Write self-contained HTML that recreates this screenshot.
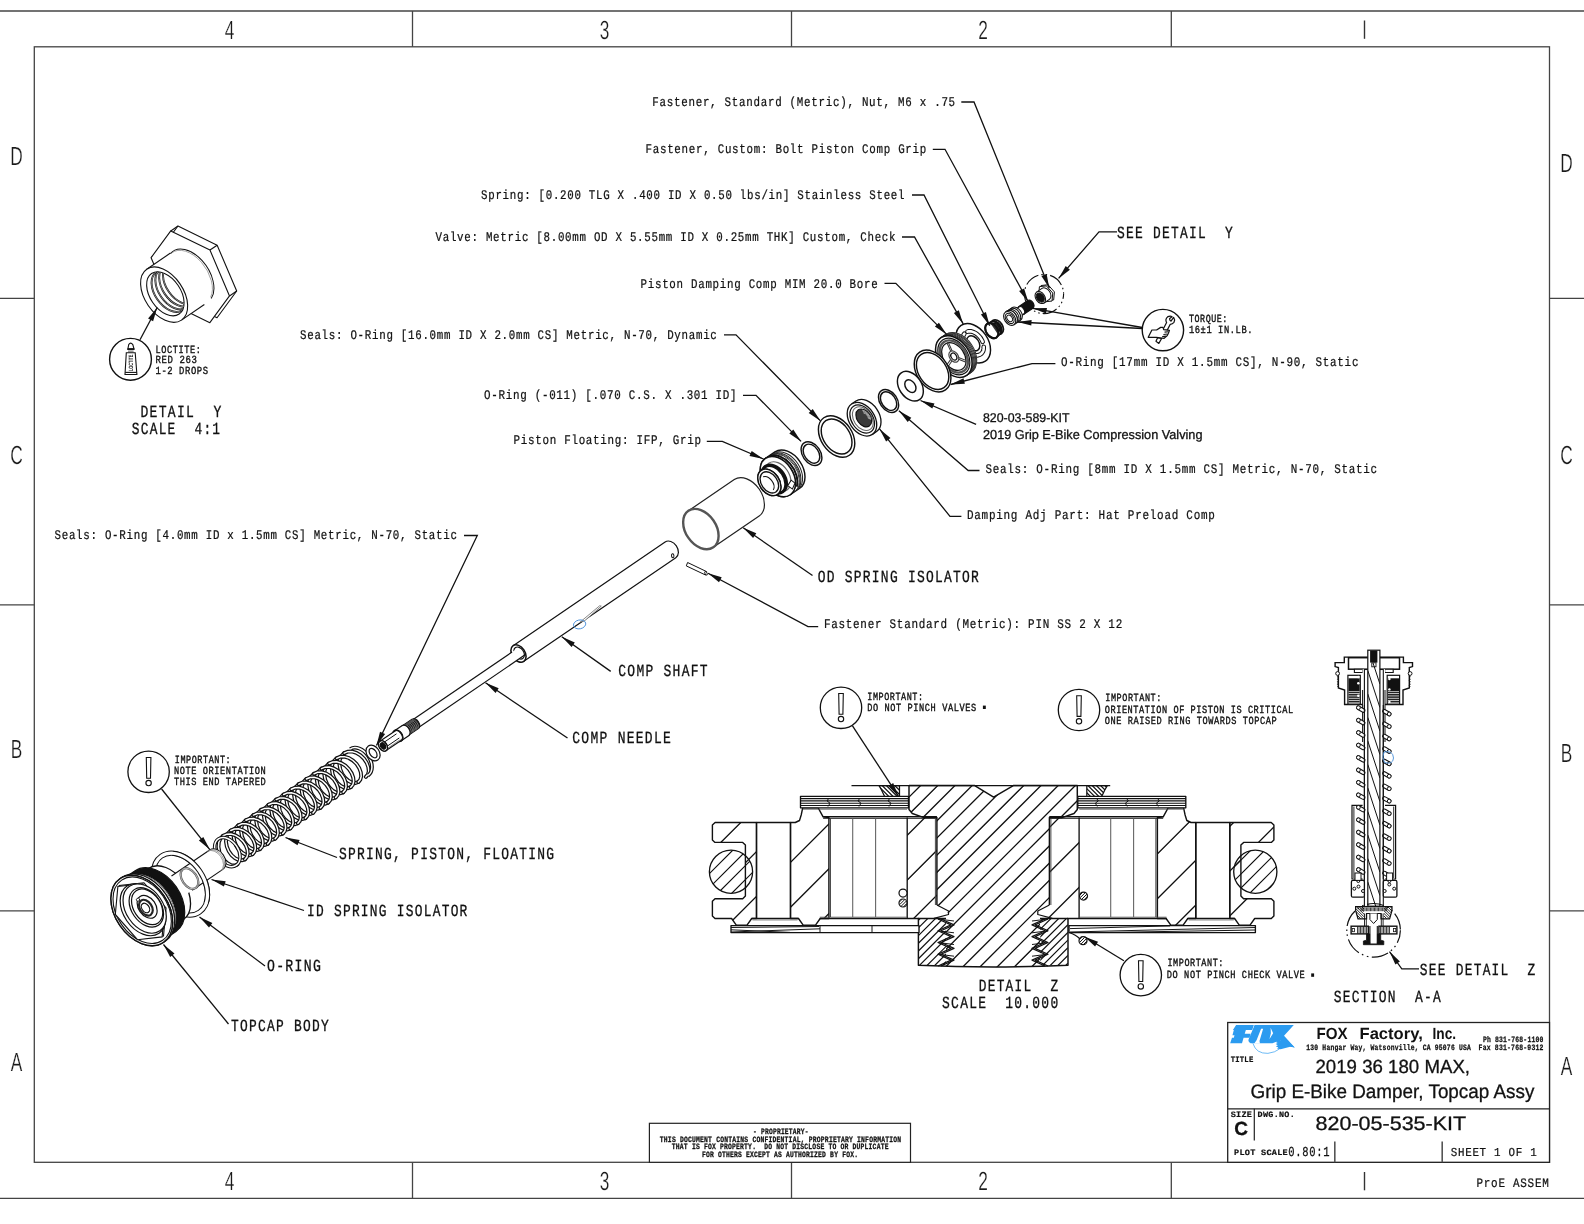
<!DOCTYPE html>
<html><head><meta charset="utf-8"><title>820-05-535-KIT</title>
<style>
html,body{margin:0;padding:0;background:#fff;}
body{width:1584px;height:1224px;overflow:hidden;font-family:"Liberation Sans",sans-serif;}
svg{display:block}
svg text{text-rendering:geometricPrecision}
</style></head><body>
<svg width="1584" height="1224" viewBox="0 0 1584 1224">
<rect width="1584" height="1224" fill="#fff"/>
<defs><filter id="noop" x="0" y="0" width="1584" height="1224" filterUnits="userSpaceOnUse" color-interpolation-filters="sRGB"><feOffset dx="0" dy="0"/></filter></defs>
<g filter="url(#noop)">
<g id="frame">
<path d="M0.0,11.0 L1584.0,11.0" fill="none" stroke="#444" stroke-width="1.3" />
<path d="M0.0,1198.3 L1584.0,1198.3" fill="none" stroke="#444" stroke-width="1.3" />
<rect x="34.3" y="46.8" width="1515.2" height="1115.5" fill="none" stroke="#444" stroke-width="1.3"/>
<path d="M412.5,11.0 L412.5,46.8" fill="none" stroke="#444" stroke-width="1.3" />
<path d="M412.5,1162.3 L412.5,1198.3" fill="none" stroke="#444" stroke-width="1.3" />
<path d="M791.5,11.0 L791.5,46.8" fill="none" stroke="#444" stroke-width="1.3" />
<path d="M791.5,1162.3 L791.5,1198.3" fill="none" stroke="#444" stroke-width="1.3" />
<path d="M1171.3,11.0 L1171.3,46.8" fill="none" stroke="#444" stroke-width="1.3" />
<path d="M1171.3,1162.3 L1171.3,1198.3" fill="none" stroke="#444" stroke-width="1.3" />
<path d="M0.0,298.3 L34.3,298.3" fill="none" stroke="#444" stroke-width="1.3" />
<path d="M1549.5,298.3 L1584.0,298.3" fill="none" stroke="#444" stroke-width="1.3" />
<path d="M0.0,604.8 L34.3,604.8" fill="none" stroke="#444" stroke-width="1.3" />
<path d="M1549.5,604.8 L1584.0,604.8" fill="none" stroke="#444" stroke-width="1.3" />
<path d="M0.0,910.8 L34.3,910.8" fill="none" stroke="#444" stroke-width="1.3" />
<path d="M1549.5,910.8 L1584.0,910.8" fill="none" stroke="#444" stroke-width="1.3" />
<text transform="translate(229.5,38.8) scale(0.66,1)" font-family="Liberation Sans" font-size="26.2" text-anchor="middle" fill="#1a1a1a" stroke="#fff" stroke-width="0.25">4</text>
<text transform="translate(229.5,1190.3) scale(0.66,1)" font-family="Liberation Sans" font-size="26.2" text-anchor="middle" fill="#1a1a1a" stroke="#fff" stroke-width="0.25">4</text>
<text transform="translate(604.5,38.8) scale(0.66,1)" font-family="Liberation Sans" font-size="26.2" text-anchor="middle" fill="#1a1a1a" stroke="#fff" stroke-width="0.25">3</text>
<text transform="translate(604.5,1190.3) scale(0.66,1)" font-family="Liberation Sans" font-size="26.2" text-anchor="middle" fill="#1a1a1a" stroke="#fff" stroke-width="0.25">3</text>
<text transform="translate(983,38.8) scale(0.66,1)" font-family="Liberation Sans" font-size="26.2" text-anchor="middle" fill="#1a1a1a" stroke="#fff" stroke-width="0.25">2</text>
<text transform="translate(983,1190.3) scale(0.66,1)" font-family="Liberation Sans" font-size="26.2" text-anchor="middle" fill="#1a1a1a" stroke="#fff" stroke-width="0.25">2</text>
<path d="M1364.5,20.5 L1364.5,38.8" fill="none" stroke="#333" stroke-width="1.4" />
<path d="M1364.5,1172.0 L1364.5,1190.3" fill="none" stroke="#333" stroke-width="1.4" />
<text transform="translate(16.5,164.5) scale(0.66,1)" font-family="Liberation Sans" font-size="26.2" text-anchor="middle" fill="#1a1a1a" stroke="#fff" stroke-width="0.25">D</text>
<text transform="translate(1566.5,171.5) scale(0.66,1)" font-family="Liberation Sans" font-size="26.2" text-anchor="middle" fill="#1a1a1a" stroke="#fff" stroke-width="0.25">D</text>
<text transform="translate(16.5,463.5) scale(0.66,1)" font-family="Liberation Sans" font-size="26.2" text-anchor="middle" fill="#1a1a1a" stroke="#fff" stroke-width="0.25">C</text>
<text transform="translate(1566.5,464) scale(0.66,1)" font-family="Liberation Sans" font-size="26.2" text-anchor="middle" fill="#1a1a1a" stroke="#fff" stroke-width="0.25">C</text>
<text transform="translate(16.5,758) scale(0.66,1)" font-family="Liberation Sans" font-size="26.2" text-anchor="middle" fill="#1a1a1a" stroke="#fff" stroke-width="0.25">B</text>
<text transform="translate(1566.5,762) scale(0.66,1)" font-family="Liberation Sans" font-size="26.2" text-anchor="middle" fill="#1a1a1a" stroke="#fff" stroke-width="0.25">B</text>
<text transform="translate(16.5,1071) scale(0.66,1)" font-family="Liberation Sans" font-size="26.2" text-anchor="middle" fill="#1a1a1a" stroke="#fff" stroke-width="0.25">A</text>
<text transform="translate(1566.5,1074.5) scale(0.66,1)" font-family="Liberation Sans" font-size="26.2" text-anchor="middle" fill="#1a1a1a" stroke="#fff" stroke-width="0.25">A</text>
</g>
<g id="labels">
<text transform="translate(652.30,106.30) scale(1,1.217)" font-family="Liberation Mono" font-size="10.85" letter-spacing="0.72" fill="#111" stroke="#111" stroke-width="0.2" xml:space="preserve">Fastener, Standard (Metric), Nut, M6 x .75</text>
<text transform="translate(645.50,153.00) scale(1,1.218)" font-family="Liberation Mono" font-size="10.84" letter-spacing="0.72" fill="#111" stroke="#111" stroke-width="0.2" xml:space="preserve">Fastener, Custom: Bolt Piston Comp Grip</text>
<text transform="translate(481.00,198.80) scale(1,1.224)" font-family="Liberation Mono" font-size="10.79" letter-spacing="0.72" fill="#111" stroke="#111" stroke-width="0.2" xml:space="preserve">Spring: [0.200 TLG X .400 ID X 0.50 lbs/in] Stainless Steel</text>
<text transform="translate(435.50,241.30) scale(1,1.222)" font-family="Liberation Mono" font-size="10.81" letter-spacing="0.72" fill="#111" stroke="#111" stroke-width="0.2" xml:space="preserve">Valve: Metric [8.00mm OD X 5.55mm ID X 0.25mm THK] Custom, Check</text>
<text transform="translate(640.50,287.50) scale(1,1.220)" font-family="Liberation Mono" font-size="10.82" letter-spacing="0.72" fill="#111" stroke="#111" stroke-width="0.2" xml:space="preserve">Piston Damping Comp MIM 20.0 Bore</text>
<text transform="translate(300.00,338.50) scale(1,1.221)" font-family="Liberation Mono" font-size="10.81" letter-spacing="0.72" fill="#111" stroke="#111" stroke-width="0.2" xml:space="preserve">Seals: O-Ring [16.0mm ID X 2.0mm CS] Metric, N-70, Dynamic</text>
<text transform="translate(484.00,399.00) scale(1,1.215)" font-family="Liberation Mono" font-size="10.87" letter-spacing="0.72" fill="#111" stroke="#111" stroke-width="0.2" xml:space="preserve">O-Ring (-011) [.070 C.S. X .301 ID]</text>
<text transform="translate(513.50,444.30) scale(1,1.215)" font-family="Liberation Mono" font-size="10.87" letter-spacing="0.72" fill="#111" stroke="#111" stroke-width="0.2" xml:space="preserve">Piston Floating: IFP, Grip</text>
<text transform="translate(54.50,539.00) scale(1,1.223)" font-family="Liberation Mono" font-size="10.80" letter-spacing="0.72" fill="#111" stroke="#111" stroke-width="0.2" xml:space="preserve">Seals: O-Ring [4.0mm ID x 1.5mm CS] Metric, N-70, Static</text>
<text transform="translate(1060.90,366.40) scale(1,1.210)" font-family="Liberation Mono" font-size="10.91" letter-spacing="0.73" fill="#111" stroke="#111" stroke-width="0.2" xml:space="preserve">O-Ring [17mm ID X 1.5mm CS], N-90, Static</text>
<text transform="translate(985.50,473.20) scale(1,1.211)" font-family="Liberation Mono" font-size="10.90" letter-spacing="0.73" fill="#111" stroke="#111" stroke-width="0.2" xml:space="preserve">Seals: O-Ring [8mm ID X 1.5mm CS] Metric, N-70, Static</text>
<text transform="translate(967.00,518.60) scale(1,1.202)" font-family="Liberation Mono" font-size="10.98" letter-spacing="0.73" fill="#111" stroke="#111" stroke-width="0.2" xml:space="preserve">Damping Adj Part: Hat Preload Comp</text>
<text transform="translate(823.90,628.40) scale(1,1.206)" font-family="Liberation Mono" font-size="10.94" letter-spacing="0.73" fill="#111" stroke="#111" stroke-width="0.2" xml:space="preserve">Fastener Standard (Metric): PIN SS 2 X 12</text>
<text transform="translate(1117.00,237.50) scale(1,1.317)" font-family="Liberation Mono" font-size="12.90" letter-spacing="1.26" fill="#111" stroke="#111" stroke-width="0.25" xml:space="preserve">SEE DETAIL  Y</text>
<text transform="translate(817.70,581.60) scale(1,1.313)" font-family="Liberation Mono" font-size="12.94" letter-spacing="1.26" fill="#111" stroke="#111" stroke-width="0.25" xml:space="preserve">OD SPRING ISOLATOR</text>
<text transform="translate(618.30,676.10) scale(1,1.310)" font-family="Liberation Mono" font-size="12.98" letter-spacing="1.27" fill="#111" stroke="#111" stroke-width="0.25" xml:space="preserve">COMP SHAFT</text>
<text transform="translate(572.30,743.00) scale(1,1.308)" font-family="Liberation Mono" font-size="13.00" letter-spacing="1.27" fill="#111" stroke="#111" stroke-width="0.25" xml:space="preserve">COMP NEEDLE</text>
<text transform="translate(339.00,858.50) scale(1,1.314)" font-family="Liberation Mono" font-size="12.93" letter-spacing="1.26" fill="#111" stroke="#111" stroke-width="0.25" xml:space="preserve">SPRING, PISTON, FLOATING</text>
<text transform="translate(307.00,916.00) scale(1,1.321)" font-family="Liberation Mono" font-size="12.86" letter-spacing="1.26" fill="#111" stroke="#111" stroke-width="0.25" xml:space="preserve">ID SPRING ISOLATOR</text>
<text transform="translate(267.00,971.20) scale(1,1.292)" font-family="Liberation Mono" font-size="13.16" letter-spacing="1.28" fill="#111" stroke="#111" stroke-width="0.25" xml:space="preserve">O-RING</text>
<text transform="translate(231.00,1030.50) scale(1,1.317)" font-family="Liberation Mono" font-size="12.90" letter-spacing="1.26" fill="#111" stroke="#111" stroke-width="0.25" xml:space="preserve">TOPCAP BODY</text>
<text transform="translate(140.50,417.30) scale(1,1.301)" font-family="Liberation Mono" font-size="13.07" letter-spacing="1.28" fill="#111" stroke="#111" stroke-width="0.25" xml:space="preserve">DETAIL  Y</text>
<text transform="translate(131.80,434.00) scale(1,1.325)" font-family="Liberation Mono" font-size="12.83" letter-spacing="1.25" fill="#111" stroke="#111" stroke-width="0.25" xml:space="preserve">SCALE  4:1</text>
<text transform="translate(978.70,991.40) scale(1,1.322)" font-family="Liberation Mono" font-size="12.85" letter-spacing="1.26" fill="#111" stroke="#111" stroke-width="0.25" xml:space="preserve">DETAIL  Z</text>
<text transform="translate(942.10,1008.20) scale(1,1.314)" font-family="Liberation Mono" font-size="12.94" letter-spacing="1.26" fill="#111" stroke="#111" stroke-width="0.25" xml:space="preserve">SCALE  10.000</text>
<text transform="translate(1419.80,974.50) scale(1,1.322)" font-family="Liberation Mono" font-size="12.86" letter-spacing="1.26" fill="#111" stroke="#111" stroke-width="0.25" xml:space="preserve">SEE DETAIL  Z</text>
<text transform="translate(1333.70,1001.60) scale(1,1.313)" font-family="Liberation Mono" font-size="12.94" letter-spacing="1.26" fill="#111" stroke="#111" stroke-width="0.25" xml:space="preserve">SECTION  A-A</text>
<text transform="translate(155.50,352.80) scale(1,1.264)" font-family="Liberation Mono" font-size="8.65" letter-spacing="0.58" fill="#111" stroke="#111" stroke-width="0.3" xml:space="preserve">LOCTITE:</text>
<text transform="translate(155.50,363.00) scale(1,1.215)" font-family="Liberation Mono" font-size="9.00" letter-spacing="0.60" fill="#111" stroke="#111" stroke-width="0.3" xml:space="preserve">RED 263</text>
<text transform="translate(155.50,374.00) scale(1,1.233)" font-family="Liberation Mono" font-size="8.86" letter-spacing="0.59" fill="#111" stroke="#111" stroke-width="0.3" xml:space="preserve">1-2 DROPS</text>
<text transform="translate(1188.90,322.00) scale(1,1.305)" font-family="Liberation Mono" font-size="8.37" letter-spacing="0.56" fill="#111" stroke="#111" stroke-width="0.3" xml:space="preserve">TORQUE:</text>
<text transform="translate(1188.90,332.70) scale(1,1.249)" font-family="Liberation Mono" font-size="8.75" letter-spacing="0.58" fill="#111" stroke="#111" stroke-width="0.3" xml:space="preserve">16±1 IN.LB.</text>
<text transform="translate(174.80,763.40) scale(1,1.290)" font-family="Liberation Mono" font-size="8.47" letter-spacing="0.56" fill="#111" stroke="#111" stroke-width="0.3" xml:space="preserve">IMPORTANT:</text>
<text transform="translate(173.90,774.20) scale(1,1.260)" font-family="Liberation Mono" font-size="8.67" letter-spacing="0.58" fill="#111" stroke="#111" stroke-width="0.3" xml:space="preserve">NOTE ORIENTATION</text>
<text transform="translate(173.90,784.80) scale(1,1.260)" font-family="Liberation Mono" font-size="8.67" letter-spacing="0.58" fill="#111" stroke="#111" stroke-width="0.3" xml:space="preserve">THIS END TAPERED</text>
<text transform="translate(867.30,699.50) scale(1,1.292)" font-family="Liberation Mono" font-size="8.46" letter-spacing="0.56" fill="#111" stroke="#111" stroke-width="0.3" xml:space="preserve">IMPORTANT:</text>
<text transform="translate(867.30,711.00) scale(1,1.266)" font-family="Liberation Mono" font-size="8.63" letter-spacing="0.58" fill="#111" stroke="#111" stroke-width="0.3" xml:space="preserve">DO NOT PINCH VALVES  </text>
<text transform="translate(1105.30,701.20) scale(1,1.287)" font-family="Liberation Mono" font-size="8.49" letter-spacing="0.57" fill="#111" stroke="#111" stroke-width="0.3" xml:space="preserve">IMPORTANT:</text>
<text transform="translate(1104.70,712.70) scale(1,1.270)" font-family="Liberation Mono" font-size="8.60" letter-spacing="0.57" fill="#111" stroke="#111" stroke-width="0.3" xml:space="preserve">ORIENTATION OF PISTON IS CRITICAL</text>
<text transform="translate(1104.70,723.50) scale(1,1.264)" font-family="Liberation Mono" font-size="8.65" letter-spacing="0.58" fill="#111" stroke="#111" stroke-width="0.3" xml:space="preserve">ONE RAISED RING TOWARDS TOPCAP</text>
<text transform="translate(1167.40,966.10) scale(1,1.287)" font-family="Liberation Mono" font-size="8.49" letter-spacing="0.57" fill="#111" stroke="#111" stroke-width="0.3" xml:space="preserve">IMPORTANT:</text>
<text transform="translate(1166.80,977.80) scale(1,1.262)" font-family="Liberation Mono" font-size="8.66" letter-spacing="0.58" fill="#111" stroke="#111" stroke-width="0.3" xml:space="preserve">DO NOT PINCH CHECK VALVE  </text>
<rect x="982.9" y="705.6" width="2.9" height="3.4" fill="#111"/><rect x="1311.2" y="973.4" width="2.9" height="3.4" fill="#111"/>
<text x="983.00" y="422.00" font-family="Liberation Sans" font-size="12.6" textLength="86.5" lengthAdjust="spacingAndGlyphs" fill="#111" stroke="#111" stroke-width="0.3" text-anchor="start" xml:space="preserve">820-03-589-KIT</text>
<text x="983.00" y="439.00" font-family="Liberation Sans" font-size="13" textLength="219.5" lengthAdjust="spacingAndGlyphs" fill="#111" stroke="#111" stroke-width="0.3" text-anchor="start" xml:space="preserve">2019 Grip E-Bike Compression Valving</text>
</g>
<g id="titleblock">
<rect x="1227.7" y="1022.5" width="321.8" height="139.8" fill="#fff" stroke="#222" stroke-width="1.3"/>
<path d="M1227.7,1108.8 L1549.5,1108.8" fill="none" stroke="#222" stroke-width="1.3" />
<path d="M1254.3,1108.8 L1254.3,1140.6" fill="none" stroke="#222" stroke-width="1.2" />
<path d="M1334.8,1141.6 L1334.8,1162.3" fill="none" stroke="#555" stroke-width="1.6" />
<path d="M1442.2,1141.6 L1442.2,1162.3" fill="none" stroke="#555" stroke-width="1.6" />
<g transform="translate(1227,1022) scale(0.04545)">
<path d="M200,65 L590,65 L555,175 L415,175 L390,260 L520,260 L495,345 L365,345 L330,470 L70,470 L110,345 L150,345 L165,290 L120,290 L150,175 L130,175 Z" fill="#2b9bf0"/>
<path d="M610,65 L1470,65 L1255,300 L1490,560 L1390,540 L1180,410 L1100,430 L1000,470 L520,470 Q450,440 480,370 L590,110 Q600,70 610,65 Z" fill="#2b9bf0"/>
<path d="M750,150 L795,150 L715,420 L725,472 L600,472 L650,400 Z" fill="#fff"/>
<path d="M960,125 L1015,250 L935,375 L965,250 Z" fill="#fff"/>
<path d="M1100,420 L1180,405 L1250,330 L1490,560 L1390,545 L1180,600 L1100,585 L1130,560 L1075,535 L1120,510 L1070,485 L1115,460 L1075,440 Z" fill="#2b9bf0"/>
<path d="M570,470 Q640,700 900,690 Q1060,670 1160,590" fill="none" stroke="#2b9bf0" stroke-width="15"/>
</g>
<text x="1316.6" y="1038.6" font-family="Liberation Sans" font-weight="bold" font-size="16.2" textLength="31.1" lengthAdjust="spacingAndGlyphs" fill="#111">FOX</text>
<text x="1359.5" y="1038.6" font-family="Liberation Sans" font-weight="bold" font-size="16.2" textLength="63.3" lengthAdjust="spacingAndGlyphs" fill="#111">Factory,</text>
<text x="1432.5" y="1038.6" font-family="Liberation Sans" font-weight="bold" font-size="16.2" textLength="23.6" lengthAdjust="spacingAndGlyphs" fill="#111">Inc.</text>
<text transform="translate(1306.30,1049.80) scale(1,1.287)" font-family="Liberation Mono" font-size="6.37" letter-spacing="0.20" font-weight="bold" fill="#111" stroke="#111" stroke-width="0.2" xml:space="preserve">130 Hangar Way, Watsonville, CA 95076 USA</text>
<text transform="translate(1482.90,1041.80) scale(1,1.276)" font-family="Liberation Mono" font-size="6.42" letter-spacing="0.20" font-weight="bold" fill="#111" stroke="#111" stroke-width="0.2" xml:space="preserve">Ph 831-768-1100</text>
<text transform="translate(1478.60,1049.80) scale(1,1.271)" font-family="Liberation Mono" font-size="6.45" letter-spacing="0.20" font-weight="bold" fill="#111" stroke="#111" stroke-width="0.2" xml:space="preserve">Fax 831-768-9312</text>
<text transform="translate(1230.70,1061.60) scale(1,1.136)" font-family="Liberation Mono" font-size="7.21" letter-spacing="0.23" font-weight="bold" fill="#111" stroke="#111" stroke-width="0.2" xml:space="preserve">TITLE</text>
<text transform="translate(1230.70,1117.00) scale(1,0.963)" font-family="Liberation Mono" font-size="8.51" letter-spacing="0.27" font-weight="bold" fill="#111" stroke="#111" stroke-width="0.2" xml:space="preserve">SIZE</text>
<text transform="translate(1257.60,1117.00) scale(1,0.966)" font-family="Liberation Mono" font-size="8.48" letter-spacing="0.27" font-weight="bold" fill="#111" stroke="#111" stroke-width="0.2" xml:space="preserve">DWG.NO.</text>
<text transform="translate(1234.00,1154.50) scale(1,0.958)" font-family="Liberation Mono" font-size="8.55" letter-spacing="0.27" font-weight="bold" fill="#111" stroke="#111" stroke-width="0.2" xml:space="preserve">PLOT SCALE</text>
<text transform="translate(1288.30,1156.00) scale(1,1.299)" font-family="Liberation Mono" font-size="10.52" letter-spacing="0.70" fill="#111" stroke="#111" stroke-width="0.2" xml:space="preserve">0.80:1</text>
<text transform="translate(1450.70,1155.60) scale(1,1.119)" font-family="Liberation Mono" font-size="10.85" letter-spacing="0.72" fill="#111" stroke="#111" stroke-width="0.2" xml:space="preserve">SHEET 1 OF 1</text>
<text transform="translate(1476.50,1186.50) scale(1,1.177)" font-family="Liberation Mono" font-size="10.96" letter-spacing="0.73" fill="#111" stroke="#111" stroke-width="0.2" xml:space="preserve">ProE ASSEM</text>
<text x="1315.50" y="1072.50" font-family="Liberation Sans" font-size="19" textLength="154.5" lengthAdjust="spacingAndGlyphs" fill="#111" stroke="#111" stroke-width="0.3" text-anchor="start" xml:space="preserve">2019 36 180 MAX,</text>
<text x="1250.50" y="1097.60" font-family="Liberation Sans" font-size="19.5" textLength="283.9" lengthAdjust="spacingAndGlyphs" fill="#111" stroke="#111" stroke-width="0.3" text-anchor="start" xml:space="preserve">Grip E-Bike Damper, Topcap Assy</text>
<text x="1315.50" y="1129.80" font-family="Liberation Sans" font-size="19.5" textLength="150.7" lengthAdjust="spacingAndGlyphs" fill="#111" stroke="#111" stroke-width="0.3" text-anchor="start" xml:space="preserve">820-05-535-KIT</text>
<text x="1234.20" y="1135.20" font-family="Liberation Sans" font-size="19" font-weight="bold" fill="#111" stroke="#111" stroke-width="0.3" text-anchor="start" xml:space="preserve">C</text>
<rect x="649.4" y="1123.3" width="261.1" height="39" fill="#fff" stroke="#222" stroke-width="1.2"/>
<text transform="translate(753.10,1133.90) scale(1,1.303)" font-family="Liberation Mono" font-size="6.29" letter-spacing="0.20" font-weight="bold" fill="#111" stroke="#111" stroke-width="0.2" xml:space="preserve">- PROPRIETARY-</text>
<text transform="translate(659.80,1141.80) scale(1,1.283)" font-family="Liberation Mono" font-size="6.39" letter-spacing="0.20" font-weight="bold" fill="#111" stroke="#111" stroke-width="0.2" xml:space="preserve">THIS DOCUMENT CONTAINS CONFIDENTIAL, PROPRIETARY INFORMATION</text>
<text transform="translate(671.80,1149.20) scale(1,1.286)" font-family="Liberation Mono" font-size="6.37" letter-spacing="0.20" font-weight="bold" fill="#111" stroke="#111" stroke-width="0.2" xml:space="preserve">THAT IS FOX PROPERTY.  DO NOT DISCLOSE TO OR DUPLICATE</text>
<text transform="translate(701.90,1156.80) scale(1,1.291)" font-family="Liberation Mono" font-size="6.35" letter-spacing="0.20" font-weight="bold" fill="#111" stroke="#111" stroke-width="0.2" xml:space="preserve">FOR OTHERS EXCEPT AS AUTHORIZED BY FOX.</text>
</g>
<g id="exploded" transform="translate(836.6,436.5) rotate(-34.3)" fill="#fff" stroke="#111" stroke-width="1">
<path d="M261.4,3.3 L256.3,9.5 L250.1,6.2 L248.9,-3.3 L254.0,-9.5 L260.2,-6.2Z" fill="#fff" stroke="#111" stroke-width="0.9"/>
<path d="M259.4,3.3 L254.3,9.5 L248.1,6.2 L246.9,-3.3 L252.0,-9.5 L258.2,-6.2Z" fill="#fff" stroke="#111" stroke-width="0.9"/>
<path d="M246.6,-6.6 L253.1,-6.6 A4.55,6.60 0 0 1 253.1,6.6 L246.6,6.6" fill="#fff" stroke="#111" stroke-width="1.08"/>
<ellipse cx="246.6" cy="0.0" rx="4.55" ry="6.60" fill="#fff" stroke="#111" stroke-width="1.08"/>
<ellipse cx="246.6" cy="0.0" rx="3.45" ry="5.00" fill="#111" stroke="#111" stroke-width="1.08"/>
<path d="M223.5,-4.6 L234.5,-4.6 A3.17,4.60 0 0 1 234.5,4.6 L223.5,4.6" fill="#111" stroke="#111" stroke-width="1.2"/>
<ellipse cx="223.5" cy="0.0" rx="3.17" ry="4.60" fill="#111" stroke="#111" stroke-width="1.2"/>
<path d="M218.5,-4.2 L223.5,-4.2 A2.90,4.20 0 0 1 223.5,4.2 L218.5,4.2" fill="#fff" stroke="#111" stroke-width="1.08"/>
<ellipse cx="218.5" cy="0.0" rx="2.90" ry="4.20" fill="#fff" stroke="#111" stroke-width="1.08"/>
<ellipse cx="217.5" cy="0.0" rx="5.24" ry="7.60" fill="#fff" stroke="#111" stroke-width="1.08"/>
<ellipse cx="215.5" cy="0.0" rx="5.24" ry="7.60" fill="#fff" stroke="#111" stroke-width="1.08"/>
<ellipse cx="213.5" cy="0.0" rx="5.24" ry="7.60" fill="#fff" stroke="#111" stroke-width="1.08"/>
<ellipse cx="211.5" cy="0.0" rx="5.24" ry="7.60" fill="#fff" stroke="#111" stroke-width="1.08"/>
<path d="M209.5,-7.6 L211.5,-7.6 A5.24,7.60 0 0 1 211.5,7.6 L209.5,7.6" fill="#fff" stroke="#111" stroke-width="1.08"/>
<ellipse cx="209.5" cy="0.0" rx="5.24" ry="7.60" fill="#fff" stroke="#111" stroke-width="1.08"/>
<ellipse cx="209.5" cy="0.0" rx="3.86" ry="5.60" fill="#fff" stroke="#111" stroke-width="0.96"/>
<ellipse cx="209.5" cy="0.0" rx="2.48" ry="3.60" fill="#fff" stroke="#111" stroke-width="0.96"/>
<ellipse cx="194.4" cy="0.0" rx="5.38" ry="7.80" fill="none" stroke="#111" stroke-width="1.7999999999999998"/>
<ellipse cx="192.9" cy="0.0" rx="5.11" ry="7.40" fill="#222" stroke="#111" stroke-width="1.56"/>
<ellipse cx="191.4" cy="0.0" rx="5.38" ry="7.80" fill="#fff" stroke="#111" stroke-width="1.7999999999999998"/>
<ellipse cx="192.4" cy="0.0" rx="3.45" ry="5.00" fill="#333" stroke="#111" stroke-width="1.44"/>
<ellipse cx="187.9" cy="0.0" rx="5.73" ry="8.30" fill="#fff" stroke="#111" stroke-width="1.92"/>
<path d="M190.8,-7.1 A5.7,8.3 0 0 1 190.8,7.1" fill="#333" stroke="none"/>
<ellipse cx="187.9" cy="0.0" rx="5.73" ry="8.30" fill="none" stroke="#111" stroke-width="1.92"/>
<ellipse cx="165.4" cy="0.0" rx="14.90" ry="21.60" fill="#fff" stroke="#111" stroke-width="1.44"/>
<path d="M156.7,4.1 L156.4,2.6 L156.3,1.0 L156.3,-0.6 L156.4,-2.2 L156.6,-3.7 L157.0,-5.2 L157.5,-6.6 L158.1,-7.9 L158.8,-9.1 L159.6,-10.2 L160.5,-11.1 L161.4,-11.9 L162.4,-12.5 L163.5,-12.9" fill="none" stroke="#111" stroke-width="4.6" stroke-linecap="round"/>
<path d="M156.7,4.1 L156.4,2.6 L156.3,1.0 L156.3,-0.6 L156.4,-2.2 L156.6,-3.7 L157.0,-5.2 L157.5,-6.6 L158.1,-7.9 L158.8,-9.1 L159.6,-10.2 L160.5,-11.1 L161.4,-11.9 L162.4,-12.5 L163.5,-12.9" fill="none" stroke="#fff" stroke-width="2.6" stroke-linecap="round"/>
<path d="M167.2,-12.9 L168.3,-12.5 L169.3,-11.9 L170.3,-11.1 L171.1,-10.2 L171.9,-9.1 L172.6,-7.9 L173.2,-6.6 L173.7,-5.2 L174.1,-3.7 L174.3,-2.2 L174.5,-0.6 L174.4,1.0 L174.3,2.6 L174.0,4.1" fill="none" stroke="#111" stroke-width="4.6" stroke-linecap="round"/>
<path d="M167.2,-12.9 L168.3,-12.5 L169.3,-11.9 L170.3,-11.1 L171.1,-10.2 L171.9,-9.1 L172.6,-7.9 L173.2,-6.6 L173.7,-5.2 L174.1,-3.7 L174.3,-2.2 L174.5,-0.6 L174.4,1.0 L174.3,2.6 L174.0,4.1" fill="none" stroke="#fff" stroke-width="2.6" stroke-linecap="round"/>
<path d="M172.1,8.8 L171.3,9.9 L170.5,10.9 L169.6,11.7 L168.6,12.4 L167.5,12.8 L166.4,13.1 L165.4,13.2 L164.3,13.1 L163.2,12.8 L162.2,12.4 L161.2,11.7 L160.2,10.9 L159.4,9.9 L158.6,8.8" fill="none" stroke="#111" stroke-width="4.6" stroke-linecap="round"/>
<path d="M172.1,8.8 L171.3,9.9 L170.5,10.9 L169.6,11.7 L168.6,12.4 L167.5,12.8 L166.4,13.1 L165.4,13.2 L164.3,13.1 L163.2,12.8 L162.2,12.4 L161.2,11.7 L160.2,10.9 L159.4,9.9 L158.6,8.8" fill="none" stroke="#fff" stroke-width="2.6" stroke-linecap="round"/>
<ellipse cx="165.4" cy="0.0" rx="5.66" ry="8.20" fill="#fff" stroke="#111" stroke-width="1.44"/>
<ellipse cx="147.5" cy="0.0" rx="15.73" ry="22.80" fill="#fff" stroke="#333" stroke-width="1.08"/>
<ellipse cx="146.4" cy="0.0" rx="15.73" ry="22.80" fill="#fff" stroke="#333" stroke-width="1.08"/>
<ellipse cx="145.3" cy="0.0" rx="15.73" ry="22.80" fill="#fff" stroke="#333" stroke-width="1.08"/>
<ellipse cx="144.2" cy="0.0" rx="15.73" ry="22.80" fill="#fff" stroke="#333" stroke-width="1.08"/>
<ellipse cx="143.1" cy="0.0" rx="15.73" ry="22.80" fill="#fff" stroke="#333" stroke-width="1.08"/>
<ellipse cx="141.9" cy="0.0" rx="15.73" ry="22.80" fill="#fff" stroke="#111" stroke-width="1.56"/>
<ellipse cx="141.9" cy="0.0" rx="13.80" ry="20.00" fill="#fff" stroke="#111" stroke-width="1.2"/>
<ellipse cx="141.9" cy="0.0" rx="12.14" ry="17.60" fill="#fff" stroke="#555" stroke-width="2.4"/>
<ellipse cx="141.9" cy="0.0" rx="10.49" ry="15.20" fill="#fff" stroke="#111" stroke-width="1.2"/>
<path d="M142.3,-6.0 L143.9,-15.0" stroke="#333" stroke-width="1" fill="none"/>
<path d="M143.6,-5.5 L145.3,-14.5" stroke="#333" stroke-width="1" fill="none"/>
<path d="M145.2,3.5 L149.8,10.0" stroke="#333" stroke-width="1" fill="none"/>
<path d="M144.3,4.9 L148.8,11.6" stroke="#333" stroke-width="1" fill="none"/>
<path d="M138.1,2.4 L131.9,5.0" stroke="#333" stroke-width="1" fill="none"/>
<path d="M137.8,0.6 L131.5,2.9" stroke="#333" stroke-width="1" fill="none"/>
<ellipse cx="141.9" cy="0.0" rx="4.28" ry="6.20" fill="#fff" stroke="#444" stroke-width="1.2"/>
<ellipse cx="141.9" cy="0.0" rx="2.62" ry="3.80" fill="#fff" stroke="#111" stroke-width="1.2"/>
<ellipse cx="116.2" cy="0.0" rx="15.80" ry="22.90" fill="#fff" stroke="#111" stroke-width="1.44"/>
<ellipse cx="116.2" cy="0.0" rx="13.94" ry="20.20" fill="#fff" stroke="#111" stroke-width="1.44"/>
<ellipse cx="89.3" cy="0.0" rx="11.18" ry="16.20" fill="#fff" stroke="#111" stroke-width="1.44"/>
<ellipse cx="89.3" cy="0.0" rx="4.83" ry="7.00" fill="#fff" stroke="#111" stroke-width="1.44"/>
<ellipse cx="62.9" cy="0.0" rx="8.69" ry="12.60" fill="#fff" stroke="#111" stroke-width="1.44"/>
<ellipse cx="62.9" cy="0.0" rx="7.04" ry="10.20" fill="#fff" stroke="#111" stroke-width="1.44"/>
<path d="M30.7,-18.4 L35.9,-18.4 A12.70,18.40 0 0 1 35.9,18.4 L30.7,18.4" fill="#fff" stroke="#111" stroke-width="1.32"/>
<ellipse cx="30.7" cy="0.0" rx="12.70" ry="18.40" fill="#fff" stroke="#111" stroke-width="1.32"/>
<ellipse cx="31.0" cy="0.0" rx="10.63" ry="15.40" fill="#fff" stroke="#111" stroke-width="1.2"/>
<ellipse cx="31.7" cy="0.0" rx="8.97" ry="13.00" fill="#fff" stroke="#666" stroke-width="1.08"/>
<ellipse cx="32.9" cy="0.0" rx="6.76" ry="9.80" fill="#3a3a3a" stroke="#111" stroke-width="1.2"/>
<path d="M36.0,-7.3 A5.80,8.40 0 0 1 37.6,5.4" fill="none" stroke="#ccc" stroke-width="0.7"/>
<path d="M35.8,-5.8 A4.62,6.70 0 0 1 37.0,4.3" fill="none" stroke="#ccc" stroke-width="0.7"/>
<path d="M35.5,-4.3 A3.45,5.00 0 0 1 36.4,3.2" fill="none" stroke="#ccc" stroke-width="0.7"/>
<ellipse cx="0.0" cy="0.0" rx="15.66" ry="22.70" fill="#fff" stroke="#111" stroke-width="1.44"/>
<ellipse cx="0.0" cy="0.0" rx="13.25" ry="19.20" fill="#fff" stroke="#111" stroke-width="1.44"/>
<ellipse cx="-30.4" cy="0.0" rx="8.97" ry="13.00" fill="#fff" stroke="#111" stroke-width="1.44"/>
<ellipse cx="-30.4" cy="0.0" rx="7.18" ry="10.40" fill="#fff" stroke="#111" stroke-width="1.44"/>
<path d="M-71.1,-22.0 L-59.6,-22.0 A15.18,22.00 0 0 1 -59.6,22.0 L-71.1,22.0" fill="#fff" stroke="#111" stroke-width="1.44"/>
<ellipse cx="-71.1" cy="0.0" rx="15.18" ry="22.00" fill="#fff" stroke="#111" stroke-width="1.44"/>
<path d="M-59.4,-21.5 A15.18,22.00 0 0 1 -59.9,21.7" fill="none" stroke="#222" stroke-width="1.0"/>
<path d="M-61.4,-21.5 A15.18,22.00 0 0 1 -61.9,21.7" fill="none" stroke="#222" stroke-width="1.0"/>
<path d="M-62.4,-21.5 A15.18,22.00 0 0 1 -62.9,21.7" fill="none" stroke="#222" stroke-width="0.8"/>
<path d="M-63.4,-21.5 A15.18,22.00 0 0 1 -63.9,21.7" fill="none" stroke="#222" stroke-width="0.8"/>
<path d="M-66.2,-21.7 A15.18,22.00 0 0 1 -61.3,19.1" fill="none" stroke="#111" stroke-width="2.0"/>
<ellipse cx="-71.1" cy="0.0" rx="15.18" ry="22.00" fill="#fff" stroke="#111" stroke-width="1.44"/>
<ellipse cx="-71.1" cy="0.0" rx="11.18" ry="16.20" fill="#fff" stroke="#666" stroke-width="1.2"/>
<path d="M-68.1,13 L-62.1,10.5 L-60.6,15 L-66.1,18.5Z" fill="#fff" stroke="#111" stroke-width="1"/>
<ellipse cx="-75.6" cy="0.0" rx="10.63" ry="15.40" fill="#111" stroke="#111" stroke-width="3.12"/>
<path d="M-81.4,-14.5 L-76.6,-14.5 A10.00,14.50 0 0 1 -76.6,14.5 L-81.4,14.5" fill="#fff" stroke="#111" stroke-width="1.32"/>
<ellipse cx="-81.4" cy="0.0" rx="10.00" ry="14.50" fill="#fff" stroke="#111" stroke-width="1.32"/>
<ellipse cx="-81.4" cy="0.0" rx="10.00" ry="14.50" fill="#fff" stroke="#111" stroke-width="1.44"/>
<ellipse cx="-81.4" cy="0.0" rx="8.00" ry="11.60" fill="#fff" stroke="#111" stroke-width="1.32"/>
<path d="M-83.4,-8.1 A5.9,8.6 0 0 1 -82.4,8.5" fill="none" stroke="#111" stroke-width="1"/>
<path d="M-164.3,-22.1 L-108.8,-22.1 A15.25,22.10 0 0 1 -108.8,22.1 L-164.3,22.1" fill="#fff" stroke="#222" stroke-width="1.2"/>
<ellipse cx="-164.3" cy="0.0" rx="15.25" ry="22.10" fill="#fff" stroke="#555" stroke-width="2.4"/>
<path d="M-385.1,-9.5 L-201.1,-9.5 A7.1,9.5 0 0 1 -201.1,9.5 L-385.1,9.5" fill="#fff" stroke="#111" stroke-width="1.2"/>
<ellipse cx="-385.1" cy="0.0" rx="6.55" ry="9.50" fill="#fff" stroke="#111" stroke-width="1.56"/>
<ellipse cx="-384.3" cy="0.0" rx="4.55" ry="6.60" fill="#fff" stroke="#111" stroke-width="1.2"/>
<ellipse cx="-202.6" cy="6.2" rx="1.2" ry="2.0" transform="rotate(28 -202.6 6.2)" fill="#fff" stroke="#111" stroke-width="1"/>
<path d="M-316.3,8.8 L-291.2,6.3 L-290.0,7.5 L-311.8,10.2Z" fill="#fff" stroke="#777" stroke-width="0.8"/>
<path d="M-384.6,-4.8 L-511.1,-4.8 L-511.1,4.8 L-382.1,4.8Z" fill="#fff" stroke="none"/>
<path d="M-511.1,-4.8 L-389.6,-4.8" fill="none" stroke="#111" stroke-width="1.2" />
<path d="M-511.1,4.8 L-380.9,4.8" fill="none" stroke="#111" stroke-width="1.2" />
<path d="M-522.1,-5.6 L-510.1,-5.6 A3.86,5.60 0 0 1 -510.1,5.6 L-522.1,5.6" fill="#222" stroke="#111" stroke-width="1.2"/>
<ellipse cx="-522.1" cy="0.0" rx="3.86" ry="5.60" fill="#222" stroke="#111" stroke-width="1.2"/>
<path d="M-519.6,-5.4 A3.86,5.60 0 0 1 -519.6,5.4" fill="none" stroke="#aaa" stroke-width="0.5"/>
<path d="M-517.8,-5.4 A3.86,5.60 0 0 1 -517.8,5.4" fill="none" stroke="#aaa" stroke-width="0.5"/>
<path d="M-516.0,-5.4 A3.86,5.60 0 0 1 -516.0,5.4" fill="none" stroke="#aaa" stroke-width="0.5"/>
<path d="M-514.2,-5.4 A3.86,5.60 0 0 1 -514.2,5.4" fill="none" stroke="#aaa" stroke-width="0.5"/>
<path d="M-512.4,-5.4 A3.86,5.60 0 0 1 -512.4,5.4" fill="none" stroke="#aaa" stroke-width="0.5"/>
<path d="M-510.6,-5.4 A3.86,5.60 0 0 1 -510.6,5.4" fill="none" stroke="#aaa" stroke-width="0.5"/>
<path d="M-531.1,-6.0 L-522.1,-6.0 A4.14,6.00 0 0 1 -522.1,6.0 L-531.1,6.0" fill="#fff" stroke="#111" stroke-width="1.2"/>
<ellipse cx="-531.1" cy="0.0" rx="4.14" ry="6.00" fill="#fff" stroke="#111" stroke-width="1.2"/>
<ellipse cx="-531.1" cy="0.0" rx="4.14" ry="6.00" fill="#fff" stroke="#111" stroke-width="1.92"/>
<path d="M-549.1,-5.6 L-531.1,-5.6 A3.86,5.60 0 0 1 -531.1,5.6 L-549.1,5.6" fill="#fff" stroke="#111" stroke-width="1.2"/>
<ellipse cx="-549.1" cy="0.0" rx="3.86" ry="5.60" fill="#fff" stroke="#111" stroke-width="1.2"/>
<path d="M-548.1,-2.4 L-531.1,-2.4" fill="none" stroke="#111" stroke-width="0.9" />
<path d="M-546.6,2.6 L-531.1,2.6" fill="none" stroke="#111" stroke-width="0.9" />
<path d="M-548.1,4.6 L-531.1,4.6" fill="none" stroke="#555" stroke-width="0.6" />
<ellipse cx="-549.1" cy="0.0" rx="3.86" ry="5.60" fill="#fff" stroke="#111" stroke-width="1.44"/>
<ellipse cx="-549.1" cy="0.0" rx="2.35" ry="3.40" fill="#111" stroke="#111" stroke-width="1.2"/>
</g>
<g id="pin">
<path d="M687.6,562.5 L706.6,571.6 L705.5,575 L686.3,565.9 Z" fill="#fff" stroke="#111" stroke-width="1"/>
<ellipse cx="706" cy="573.3" rx="1.1" ry="1.9" transform="rotate(-25 706 573.3)" fill="#fff" stroke="#111" stroke-width="0.9"/>
<ellipse cx="579.6" cy="624.4" rx="6.2" ry="4.4" transform="rotate(-12 579.6 624.4)" fill="none" stroke="#4a90d9" stroke-width="0.9"/>
</g>
<g id="lower" transform="translate(836.6,436.5) rotate(-34.3)" fill="#fff" stroke="#111" stroke-width="1">
<path d="M-736.2,15.9 L-739.2,15.1 L-741.8,12.9 L-743.7,9.3 L-744.8,4.9 L-744.9,0.0 L-743.9,-4.9 L-741.9,-9.3 L-739.0,-12.9 L-735.5,-15.1 L-731.7,-15.9" fill="none" stroke="#111" stroke-width="3.9" stroke-linecap="round"/>
<path d="M-736.2,15.9 L-739.2,15.1 L-741.8,12.9 L-743.7,9.3 L-744.8,4.9 L-744.9,0.0 L-743.9,-4.9 L-741.9,-9.3 L-739.0,-12.9 L-735.5,-15.1 L-731.7,-15.9" fill="none" stroke="#fff" stroke-width="1.5" stroke-linecap="round"/>
<path d="M-727.1,15.9 L-730.0,15.1 L-732.6,12.9 L-734.6,9.3 L-735.7,4.9 L-735.8,0.0 L-734.8,-4.9 L-732.8,-9.3 L-729.9,-12.9 L-726.4,-15.1 L-722.5,-15.9" fill="none" stroke="#111" stroke-width="3.9" stroke-linecap="round"/>
<path d="M-727.1,15.9 L-730.0,15.1 L-732.6,12.9 L-734.6,9.3 L-735.7,4.9 L-735.8,0.0 L-734.8,-4.9 L-732.8,-9.3 L-729.9,-12.9 L-726.4,-15.1 L-722.5,-15.9" fill="none" stroke="#fff" stroke-width="1.5" stroke-linecap="round"/>
<path d="M-717.9,15.9 L-720.9,15.1 L-723.5,12.9 L-725.4,9.3 L-726.5,4.9 L-726.6,0.0 L-725.6,-4.9 L-723.6,-9.3 L-720.7,-12.9 L-717.2,-15.1 L-713.4,-15.9" fill="none" stroke="#111" stroke-width="3.9" stroke-linecap="round"/>
<path d="M-717.9,15.9 L-720.9,15.1 L-723.5,12.9 L-725.4,9.3 L-726.5,4.9 L-726.6,0.0 L-725.6,-4.9 L-723.6,-9.3 L-720.7,-12.9 L-717.2,-15.1 L-713.4,-15.9" fill="none" stroke="#fff" stroke-width="1.5" stroke-linecap="round"/>
<path d="M-708.8,15.9 L-711.7,15.1 L-714.3,12.9 L-716.3,9.3 L-717.4,4.9 L-717.5,-0.0 L-716.5,-4.9 L-714.5,-9.3 L-711.6,-12.9 L-708.1,-15.1 L-704.2,-15.9" fill="none" stroke="#111" stroke-width="3.9" stroke-linecap="round"/>
<path d="M-708.8,15.9 L-711.7,15.1 L-714.3,12.9 L-716.3,9.3 L-717.4,4.9 L-717.5,-0.0 L-716.5,-4.9 L-714.5,-9.3 L-711.6,-12.9 L-708.1,-15.1 L-704.2,-15.9" fill="none" stroke="#fff" stroke-width="1.5" stroke-linecap="round"/>
<path d="M-699.6,15.9 L-702.6,15.1 L-705.2,12.9 L-707.1,9.3 L-708.2,4.9 L-708.3,-0.0 L-707.3,-4.9 L-705.3,-9.3 L-702.4,-12.9 L-698.9,-15.1 L-695.1,-15.9" fill="none" stroke="#111" stroke-width="3.9" stroke-linecap="round"/>
<path d="M-699.6,15.9 L-702.6,15.1 L-705.2,12.9 L-707.1,9.3 L-708.2,4.9 L-708.3,-0.0 L-707.3,-4.9 L-705.3,-9.3 L-702.4,-12.9 L-698.9,-15.1 L-695.1,-15.9" fill="none" stroke="#fff" stroke-width="1.5" stroke-linecap="round"/>
<path d="M-690.5,15.9 L-693.4,15.1 L-696.0,12.9 L-698.0,9.3 L-699.1,4.9 L-699.2,-0.0 L-698.2,-4.9 L-696.2,-9.3 L-693.3,-12.9 L-689.8,-15.1 L-685.9,-15.9" fill="none" stroke="#111" stroke-width="3.9" stroke-linecap="round"/>
<path d="M-690.5,15.9 L-693.4,15.1 L-696.0,12.9 L-698.0,9.3 L-699.1,4.9 L-699.2,-0.0 L-698.2,-4.9 L-696.2,-9.3 L-693.3,-12.9 L-689.8,-15.1 L-685.9,-15.9" fill="none" stroke="#fff" stroke-width="1.5" stroke-linecap="round"/>
<path d="M-681.3,15.9 L-684.3,15.1 L-686.9,12.9 L-688.8,9.3 L-689.9,4.9 L-690.0,-0.0 L-689.0,-4.9 L-687.0,-9.3 L-684.1,-12.9 L-680.6,-15.1 L-676.8,-15.9" fill="none" stroke="#111" stroke-width="3.9" stroke-linecap="round"/>
<path d="M-681.3,15.9 L-684.3,15.1 L-686.9,12.9 L-688.8,9.3 L-689.9,4.9 L-690.0,-0.0 L-689.0,-4.9 L-687.0,-9.3 L-684.1,-12.9 L-680.6,-15.1 L-676.8,-15.9" fill="none" stroke="#fff" stroke-width="1.5" stroke-linecap="round"/>
<path d="M-672.2,15.9 L-675.1,15.1 L-677.7,12.9 L-679.7,9.3 L-680.8,4.9 L-680.9,-0.0 L-679.9,-4.9 L-677.9,-9.3 L-675.0,-12.9 L-671.5,-15.1 L-667.6,-15.9" fill="none" stroke="#111" stroke-width="3.9" stroke-linecap="round"/>
<path d="M-672.2,15.9 L-675.1,15.1 L-677.7,12.9 L-679.7,9.3 L-680.8,4.9 L-680.9,-0.0 L-679.9,-4.9 L-677.9,-9.3 L-675.0,-12.9 L-671.5,-15.1 L-667.6,-15.9" fill="none" stroke="#fff" stroke-width="1.5" stroke-linecap="round"/>
<path d="M-663.0,15.9 L-666.0,15.1 L-668.6,12.9 L-670.5,9.3 L-671.6,4.9 L-671.7,-0.0 L-670.7,-4.9 L-668.7,-9.3 L-665.8,-12.9 L-662.3,-15.1 L-658.5,-15.9" fill="none" stroke="#111" stroke-width="3.9" stroke-linecap="round"/>
<path d="M-663.0,15.9 L-666.0,15.1 L-668.6,12.9 L-670.5,9.3 L-671.6,4.9 L-671.7,-0.0 L-670.7,-4.9 L-668.7,-9.3 L-665.8,-12.9 L-662.3,-15.1 L-658.5,-15.9" fill="none" stroke="#fff" stroke-width="1.5" stroke-linecap="round"/>
<path d="M-653.9,15.9 L-656.8,15.1 L-659.4,12.9 L-661.4,9.3 L-662.5,4.9 L-662.6,-0.0 L-661.6,-4.9 L-659.6,-9.3 L-656.7,-12.9 L-653.2,-15.1 L-649.3,-15.9" fill="none" stroke="#111" stroke-width="3.9" stroke-linecap="round"/>
<path d="M-653.9,15.9 L-656.8,15.1 L-659.4,12.9 L-661.4,9.3 L-662.5,4.9 L-662.6,-0.0 L-661.6,-4.9 L-659.6,-9.3 L-656.7,-12.9 L-653.2,-15.1 L-649.3,-15.9" fill="none" stroke="#fff" stroke-width="1.5" stroke-linecap="round"/>
<path d="M-644.7,15.9 L-647.7,15.1 L-650.3,12.9 L-652.2,9.3 L-653.3,4.9 L-653.4,-0.0 L-652.4,-4.9 L-650.4,-9.3 L-647.5,-12.9 L-644.0,-15.1 L-640.2,-15.9" fill="none" stroke="#111" stroke-width="3.9" stroke-linecap="round"/>
<path d="M-644.7,15.9 L-647.7,15.1 L-650.3,12.9 L-652.2,9.3 L-653.3,4.9 L-653.4,-0.0 L-652.4,-4.9 L-650.4,-9.3 L-647.5,-12.9 L-644.0,-15.1 L-640.2,-15.9" fill="none" stroke="#fff" stroke-width="1.5" stroke-linecap="round"/>
<path d="M-635.6,15.9 L-638.5,15.1 L-641.1,12.9 L-643.1,9.3 L-644.2,4.9 L-644.3,0.0 L-643.3,-4.9 L-641.3,-9.3 L-638.4,-12.9 L-634.9,-15.1 L-631.0,-15.9" fill="none" stroke="#111" stroke-width="3.9" stroke-linecap="round"/>
<path d="M-635.6,15.9 L-638.5,15.1 L-641.1,12.9 L-643.1,9.3 L-644.2,4.9 L-644.3,0.0 L-643.3,-4.9 L-641.3,-9.3 L-638.4,-12.9 L-634.9,-15.1 L-631.0,-15.9" fill="none" stroke="#fff" stroke-width="1.5" stroke-linecap="round"/>
<path d="M-626.4,15.9 L-629.4,15.1 L-632.0,12.9 L-633.9,9.3 L-635.0,4.9 L-635.1,0.0 L-634.1,-4.9 L-632.1,-9.3 L-629.2,-12.9 L-625.7,-15.1 L-621.9,-15.9" fill="none" stroke="#111" stroke-width="3.9" stroke-linecap="round"/>
<path d="M-626.4,15.9 L-629.4,15.1 L-632.0,12.9 L-633.9,9.3 L-635.0,4.9 L-635.1,0.0 L-634.1,-4.9 L-632.1,-9.3 L-629.2,-12.9 L-625.7,-15.1 L-621.9,-15.9" fill="none" stroke="#fff" stroke-width="1.5" stroke-linecap="round"/>
<path d="M-617.3,15.9 L-620.2,15.1 L-622.8,12.9 L-624.8,9.3 L-625.9,4.9 L-626.0,0.0 L-625.0,-4.9 L-622.9,-9.3 L-620.1,-12.9 L-616.5,-15.1 L-612.7,-15.9" fill="none" stroke="#111" stroke-width="3.9" stroke-linecap="round"/>
<path d="M-617.3,15.9 L-620.2,15.1 L-622.8,12.9 L-624.8,9.3 L-625.9,4.9 L-626.0,0.0 L-625.0,-4.9 L-622.9,-9.3 L-620.1,-12.9 L-616.5,-15.1 L-612.7,-15.9" fill="none" stroke="#fff" stroke-width="1.5" stroke-linecap="round"/>
<path d="M-608.1,15.9 L-611.1,15.1 L-613.7,12.9 L-615.6,9.3 L-616.7,4.9 L-616.8,-0.0 L-615.8,-4.9 L-613.8,-9.3 L-610.9,-12.9 L-607.4,-15.1 L-603.5,-15.9" fill="none" stroke="#111" stroke-width="3.9" stroke-linecap="round"/>
<path d="M-608.1,15.9 L-611.1,15.1 L-613.7,12.9 L-615.6,9.3 L-616.7,4.9 L-616.8,-0.0 L-615.8,-4.9 L-613.8,-9.3 L-610.9,-12.9 L-607.4,-15.1 L-603.5,-15.9" fill="none" stroke="#fff" stroke-width="1.5" stroke-linecap="round"/>
<path d="M-599.0,15.9 L-601.9,15.1 L-604.5,12.9 L-606.5,9.3 L-607.6,4.9 L-607.7,0.0 L-606.7,-4.9 L-604.6,-9.3 L-601.8,-12.9 L-598.2,-15.1 L-594.4,-15.9" fill="none" stroke="#111" stroke-width="3.9" stroke-linecap="round"/>
<path d="M-599.0,15.9 L-601.9,15.1 L-604.5,12.9 L-606.5,9.3 L-607.6,4.9 L-607.7,0.0 L-606.7,-4.9 L-604.6,-9.3 L-601.8,-12.9 L-598.2,-15.1 L-594.4,-15.9" fill="none" stroke="#fff" stroke-width="1.5" stroke-linecap="round"/>
<path d="M-589.8,15.9 L-592.8,15.1 L-595.4,12.9 L-597.3,9.3 L-598.4,4.9 L-598.5,0.0 L-597.5,-4.9 L-595.5,-9.3 L-592.6,-12.9 L-589.1,-15.1 L-585.2,-15.9" fill="none" stroke="#111" stroke-width="3.9" stroke-linecap="round"/>
<path d="M-589.8,15.9 L-592.8,15.1 L-595.4,12.9 L-597.3,9.3 L-598.4,4.9 L-598.5,0.0 L-597.5,-4.9 L-595.5,-9.3 L-592.6,-12.9 L-589.1,-15.1 L-585.2,-15.9" fill="none" stroke="#fff" stroke-width="1.5" stroke-linecap="round"/>
<path d="M-585.2,-15.9 L-581.4,-15.1 L-577.9,-12.9 L-575.0,-9.3 L-573.0,-4.9 L-572.0,0.0 L-572.1,4.9 L-573.2,9.3 L-575.1,12.9 L-577.7,15.1 L-580.7,15.9" fill="none" stroke="#111" stroke-width="3.9" stroke-linecap="round"/>
<path d="M-585.2,-15.9 L-581.4,-15.1 L-577.9,-12.9 L-575.0,-9.3 L-573.0,-4.9 L-572.0,0.0 L-572.1,4.9 L-573.2,9.3 L-575.1,12.9 L-577.7,15.1 L-580.7,15.9" fill="none" stroke="#fff" stroke-width="1.5" stroke-linecap="round"/>
<path d="M-594.4,-15.9 L-590.5,-15.1 L-587.0,-12.9 L-584.1,-9.3 L-582.1,-4.9 L-581.1,-0.0 L-581.2,4.9 L-582.3,9.3 L-584.3,12.9 L-586.9,15.1 L-589.8,15.9" fill="none" stroke="#111" stroke-width="3.9" stroke-linecap="round"/>
<path d="M-594.4,-15.9 L-590.5,-15.1 L-587.0,-12.9 L-584.1,-9.3 L-582.1,-4.9 L-581.1,-0.0 L-581.2,4.9 L-582.3,9.3 L-584.3,12.9 L-586.9,15.1 L-589.8,15.9" fill="none" stroke="#fff" stroke-width="1.5" stroke-linecap="round"/>
<path d="M-603.5,-15.9 L-599.7,-15.1 L-596.2,-12.9 L-593.3,-9.3 L-591.3,-4.9 L-590.3,-0.0 L-590.4,4.9 L-591.5,9.3 L-593.4,12.9 L-596.0,15.1 L-599.0,15.9" fill="none" stroke="#111" stroke-width="3.9" stroke-linecap="round"/>
<path d="M-603.5,-15.9 L-599.7,-15.1 L-596.2,-12.9 L-593.3,-9.3 L-591.3,-4.9 L-590.3,-0.0 L-590.4,4.9 L-591.5,9.3 L-593.4,12.9 L-596.0,15.1 L-599.0,15.9" fill="none" stroke="#fff" stroke-width="1.5" stroke-linecap="round"/>
<path d="M-612.7,-15.9 L-608.9,-15.1 L-605.3,-12.9 L-602.5,-9.3 L-600.4,-4.9 L-599.4,0.0 L-599.5,4.9 L-600.6,9.3 L-602.6,12.9 L-605.2,15.1 L-608.1,15.9" fill="none" stroke="#111" stroke-width="3.9" stroke-linecap="round"/>
<path d="M-612.7,-15.9 L-608.9,-15.1 L-605.3,-12.9 L-602.5,-9.3 L-600.4,-4.9 L-599.4,0.0 L-599.5,4.9 L-600.6,9.3 L-602.6,12.9 L-605.2,15.1 L-608.1,15.9" fill="none" stroke="#fff" stroke-width="1.5" stroke-linecap="round"/>
<path d="M-621.9,-15.9 L-618.0,-15.1 L-614.5,-12.9 L-611.6,-9.3 L-609.6,-4.9 L-608.6,0.0 L-608.7,4.9 L-609.8,9.3 L-611.7,12.9 L-614.3,15.1 L-617.3,15.9" fill="none" stroke="#111" stroke-width="3.9" stroke-linecap="round"/>
<path d="M-621.9,-15.9 L-618.0,-15.1 L-614.5,-12.9 L-611.6,-9.3 L-609.6,-4.9 L-608.6,0.0 L-608.7,4.9 L-609.8,9.3 L-611.7,12.9 L-614.3,15.1 L-617.3,15.9" fill="none" stroke="#fff" stroke-width="1.5" stroke-linecap="round"/>
<path d="M-631.0,-15.9 L-627.2,-15.1 L-623.6,-12.9 L-620.8,-9.3 L-618.7,-4.9 L-617.7,-0.0 L-617.8,4.9 L-618.9,9.3 L-620.9,12.9 L-623.5,15.1 L-626.4,15.9" fill="none" stroke="#111" stroke-width="3.9" stroke-linecap="round"/>
<path d="M-631.0,-15.9 L-627.2,-15.1 L-623.6,-12.9 L-620.8,-9.3 L-618.7,-4.9 L-617.7,-0.0 L-617.8,4.9 L-618.9,9.3 L-620.9,12.9 L-623.5,15.1 L-626.4,15.9" fill="none" stroke="#fff" stroke-width="1.5" stroke-linecap="round"/>
<path d="M-640.2,-15.9 L-636.3,-15.1 L-632.8,-12.9 L-629.9,-9.3 L-627.9,-4.9 L-626.9,-0.0 L-627.0,4.9 L-628.1,9.3 L-630.0,12.9 L-632.6,15.1 L-635.6,15.9" fill="none" stroke="#111" stroke-width="3.9" stroke-linecap="round"/>
<path d="M-640.2,-15.9 L-636.3,-15.1 L-632.8,-12.9 L-629.9,-9.3 L-627.9,-4.9 L-626.9,-0.0 L-627.0,4.9 L-628.1,9.3 L-630.0,12.9 L-632.6,15.1 L-635.6,15.9" fill="none" stroke="#fff" stroke-width="1.5" stroke-linecap="round"/>
<path d="M-649.3,-15.9 L-645.5,-15.1 L-641.9,-12.9 L-639.1,-9.3 L-637.0,-4.9 L-636.0,-0.0 L-636.1,4.9 L-637.2,9.3 L-639.2,12.9 L-641.8,15.1 L-644.7,15.9" fill="none" stroke="#111" stroke-width="3.9" stroke-linecap="round"/>
<path d="M-649.3,-15.9 L-645.5,-15.1 L-641.9,-12.9 L-639.1,-9.3 L-637.0,-4.9 L-636.0,-0.0 L-636.1,4.9 L-637.2,9.3 L-639.2,12.9 L-641.8,15.1 L-644.7,15.9" fill="none" stroke="#fff" stroke-width="1.5" stroke-linecap="round"/>
<path d="M-658.5,-15.9 L-654.6,-15.1 L-651.1,-12.9 L-648.2,-9.3 L-646.2,-4.9 L-645.2,-0.0 L-645.3,4.9 L-646.4,9.3 L-648.3,12.9 L-650.9,15.1 L-653.9,15.9" fill="none" stroke="#111" stroke-width="3.9" stroke-linecap="round"/>
<path d="M-658.5,-15.9 L-654.6,-15.1 L-651.1,-12.9 L-648.2,-9.3 L-646.2,-4.9 L-645.2,-0.0 L-645.3,4.9 L-646.4,9.3 L-648.3,12.9 L-650.9,15.1 L-653.9,15.9" fill="none" stroke="#fff" stroke-width="1.5" stroke-linecap="round"/>
<path d="M-667.6,-15.9 L-663.8,-15.1 L-660.2,-12.9 L-657.4,-9.3 L-655.3,-4.9 L-654.3,-0.0 L-654.4,4.9 L-655.5,9.3 L-657.5,12.9 L-660.1,15.1 L-663.0,15.9" fill="none" stroke="#111" stroke-width="3.9" stroke-linecap="round"/>
<path d="M-667.6,-15.9 L-663.8,-15.1 L-660.2,-12.9 L-657.4,-9.3 L-655.3,-4.9 L-654.3,-0.0 L-654.4,4.9 L-655.5,9.3 L-657.5,12.9 L-660.1,15.1 L-663.0,15.9" fill="none" stroke="#fff" stroke-width="1.5" stroke-linecap="round"/>
<path d="M-676.8,-15.9 L-672.9,-15.1 L-669.4,-12.9 L-666.5,-9.3 L-664.5,-4.9 L-663.5,-0.0 L-663.6,4.9 L-664.7,9.3 L-666.7,12.9 L-669.3,15.1 L-672.2,15.9" fill="none" stroke="#111" stroke-width="3.9" stroke-linecap="round"/>
<path d="M-676.8,-15.9 L-672.9,-15.1 L-669.4,-12.9 L-666.5,-9.3 L-664.5,-4.9 L-663.5,-0.0 L-663.6,4.9 L-664.7,9.3 L-666.7,12.9 L-669.3,15.1 L-672.2,15.9" fill="none" stroke="#fff" stroke-width="1.5" stroke-linecap="round"/>
<path d="M-685.9,-15.9 L-682.1,-15.1 L-678.5,-12.9 L-675.7,-9.3 L-673.6,-4.9 L-672.7,-0.0 L-672.7,4.9 L-673.8,9.3 L-675.8,12.9 L-678.4,15.1 L-681.3,15.9" fill="none" stroke="#111" stroke-width="3.9" stroke-linecap="round"/>
<path d="M-685.9,-15.9 L-682.1,-15.1 L-678.5,-12.9 L-675.7,-9.3 L-673.6,-4.9 L-672.7,-0.0 L-672.7,4.9 L-673.8,9.3 L-675.8,12.9 L-678.4,15.1 L-681.3,15.9" fill="none" stroke="#fff" stroke-width="1.5" stroke-linecap="round"/>
<path d="M-695.1,-15.9 L-691.2,-15.1 L-687.7,-12.9 L-684.8,-9.3 L-682.8,-4.9 L-681.8,-0.0 L-681.9,4.9 L-683.0,9.3 L-685.0,12.9 L-687.6,15.1 L-690.5,15.9" fill="none" stroke="#111" stroke-width="3.9" stroke-linecap="round"/>
<path d="M-695.1,-15.9 L-691.2,-15.1 L-687.7,-12.9 L-684.8,-9.3 L-682.8,-4.9 L-681.8,-0.0 L-681.9,4.9 L-683.0,9.3 L-685.0,12.9 L-687.6,15.1 L-690.5,15.9" fill="none" stroke="#fff" stroke-width="1.5" stroke-linecap="round"/>
<path d="M-704.2,-15.9 L-700.4,-15.1 L-696.9,-12.9 L-694.0,-9.3 L-691.9,-4.9 L-691.0,-0.0 L-691.0,4.9 L-692.1,9.3 L-694.1,12.9 L-696.7,15.1 L-699.6,15.9" fill="none" stroke="#111" stroke-width="3.9" stroke-linecap="round"/>
<path d="M-704.2,-15.9 L-700.4,-15.1 L-696.9,-12.9 L-694.0,-9.3 L-691.9,-4.9 L-691.0,-0.0 L-691.0,4.9 L-692.1,9.3 L-694.1,12.9 L-696.7,15.1 L-699.6,15.9" fill="none" stroke="#fff" stroke-width="1.5" stroke-linecap="round"/>
<path d="M-713.4,-15.9 L-709.5,-15.1 L-706.0,-12.9 L-703.1,-9.3 L-701.1,-4.9 L-700.1,-0.0 L-700.2,4.9 L-701.3,9.3 L-703.3,12.9 L-705.9,15.1 L-708.8,15.9" fill="none" stroke="#111" stroke-width="3.9" stroke-linecap="round"/>
<path d="M-713.4,-15.9 L-709.5,-15.1 L-706.0,-12.9 L-703.1,-9.3 L-701.1,-4.9 L-700.1,-0.0 L-700.2,4.9 L-701.3,9.3 L-703.3,12.9 L-705.9,15.1 L-708.8,15.9" fill="none" stroke="#fff" stroke-width="1.5" stroke-linecap="round"/>
<path d="M-722.5,-15.9 L-718.7,-15.1 L-715.2,-12.9 L-712.3,-9.3 L-710.3,-4.9 L-709.3,-0.0 L-709.3,4.9 L-710.4,9.3 L-712.4,12.9 L-715.0,15.1 L-717.9,15.9" fill="none" stroke="#111" stroke-width="3.9" stroke-linecap="round"/>
<path d="M-722.5,-15.9 L-718.7,-15.1 L-715.2,-12.9 L-712.3,-9.3 L-710.3,-4.9 L-709.3,-0.0 L-709.3,4.9 L-710.4,9.3 L-712.4,12.9 L-715.0,15.1 L-717.9,15.9" fill="none" stroke="#fff" stroke-width="1.5" stroke-linecap="round"/>
<path d="M-731.7,-15.9 L-727.8,-15.1 L-724.3,-12.9 L-721.4,-9.3 L-719.4,-4.9 L-718.4,-0.0 L-718.5,4.9 L-719.6,9.3 L-721.6,12.9 L-724.2,15.1 L-727.1,15.9" fill="none" stroke="#111" stroke-width="3.9" stroke-linecap="round"/>
<path d="M-731.7,-15.9 L-727.8,-15.1 L-724.3,-12.9 L-721.4,-9.3 L-719.4,-4.9 L-718.4,-0.0 L-718.5,4.9 L-719.6,9.3 L-721.6,12.9 L-724.2,15.1 L-727.1,15.9" fill="none" stroke="#fff" stroke-width="1.5" stroke-linecap="round"/>
<ellipse cx="-737.5" cy="0" rx="10.97" ry="15.9" fill="none" stroke="#111" stroke-width="3.5"/>
<ellipse cx="-737.5" cy="0" rx="10.97" ry="15.9" fill="none" stroke="#fff" stroke-width="1.5"/>
<path d="M-577.9,-15.9 A10.97,15.9 0 0 1 -577.9,15.9" fill="none" stroke="#111" stroke-width="3.9"/>
<path d="M-577.9,-15.9 A10.97,15.9 0 0 1 -577.9,15.9" fill="none" stroke="#fff" stroke-width="1.5"/>
<ellipse cx="-561.3" cy="0.3" rx="4.76" ry="6.9" fill="#fff" stroke="#111" stroke-width="4.3"/>
<ellipse cx="-561.3" cy="0.3" rx="4.76" ry="6.9" fill="none" stroke="#fff" stroke-width="1.9"/>
<ellipse cx="-794.3" cy="0" rx="23.39" ry="33.9" fill="none" stroke="#111" stroke-width="5.2"/>
<ellipse cx="-794.3" cy="0" rx="23.39" ry="33.9" fill="none" stroke="#fff" stroke-width="3.2"/>
<path d="M-824.6,-31.0 L-812.1,-31.0 A21.39,31.00 0 0 1 -812.1,31.0 L-824.6,31.0" fill="#fff" stroke="#111" stroke-width="1.32"/>
<path d="M-811.1,-11.7 L-750.5,-11.7 A8.07,11.7 0 0 1 -750.5,11.7 L-811.1,11.7Z" fill="#fff" stroke="none"/>
<path d="M-797.1,-11.7 L-750.5,-11.7" fill="none" stroke="#111" stroke-width="1.1" />
<path d="M-788.1,11.7 L-750.5,11.7" fill="none" stroke="#111" stroke-width="1.1" />
<path d="M-750.5,-11.7 A8.07,11.70 0 0 1 -750.5,11.7" fill="none" stroke="#111" stroke-width="1.0"/>
<path d="M-752.1,-11.7 A8.07,11.70 0 0 1 -752.1,11.7" fill="none" stroke="#888" stroke-width="0.8"/>
<path d="M-753.5,-11.7 A8.07,11.70 0 0 1 -753.5,11.7" fill="none" stroke="#888" stroke-width="0.8"/>
<ellipse cx="-783.7" cy="0.5" rx="7.4" ry="11.4" fill="#fff" stroke="#555" stroke-width="2.2"/>
<ellipse cx="-783.7" cy="0.5" rx="7.4" ry="11.4" fill="none" stroke="#ddd" stroke-width="0.7"/>
<path d="M-783.4,-29.9 A23.39,33.9 0 0 1 -783.4,29.9" fill="none" stroke="#111" stroke-width="5.2"/>
<path d="M-783.4,-29.9 A23.39,33.9 0 0 1 -783.4,29.9" fill="none" stroke="#fff" stroke-width="3.2" stroke-linecap="round"/>
<path d="M-833.6,-36.6 L-824.6,-36.6 A25.25,36.60 0 0 1 -824.6,36.6 L-833.6,36.6" fill="#111" stroke="#111" stroke-width="1.2"/>
<ellipse cx="-833.6" cy="0.0" rx="25.25" ry="36.60" fill="#111" stroke="#111" stroke-width="1.2"/>
<path d="M-838.6,-36.0 L-834.1,-36.0 A24.84,36.00 0 0 1 -834.1,36.0 L-838.6,36.0" fill="#fff" stroke="#111" stroke-width="1.2"/>
<path d="M-834.9,-35.9 A24.84,36.00 0 0 1 -834.9,35.9" fill="none" stroke="#555" stroke-width="0.7"/>
<path d="M-833.4,-35.9 A24.84,36.00 0 0 1 -833.4,35.9" fill="none" stroke="#555" stroke-width="0.7"/>
<path d="M-841.1,-38.5 L-838.6,-38.5 A26.56,38.50 0 0 1 -838.6,38.5 L-841.1,38.5" fill="#fff" stroke="#111" stroke-width="1.32"/>
<ellipse cx="-841.1" cy="0.0" rx="26.56" ry="38.50" fill="#fff" stroke="#111" stroke-width="1.32"/>
<ellipse cx="-841.1" cy="0.0" rx="26.56" ry="38.50" fill="#fff" stroke="#111" stroke-width="1.44"/>
<ellipse cx="-840.6" cy="0.0" rx="25.12" ry="36.40" fill="#fff" stroke="#111" stroke-width="1.08"/>
<path d="M-819.6,11.6 L-837.5,33.3 L-859.4,21.7 L-863.5,-11.6 L-845.6,-33.3 L-823.7,-21.7Z" fill="#fff" stroke="#111" stroke-width="1.1"/>
<path d="M-821.3,11.6 L-839.2,33.3 L-861.1,21.7 L-865.2,-11.6 L-847.3,-33.3 L-825.4,-21.7Z" fill="#fff" stroke="#111" stroke-width="1.1"/>
<ellipse cx="-839.6" cy="0.0" rx="19.66" ry="28.50" fill="#fff" stroke="#111" stroke-width="1.2"/>
<ellipse cx="-837.6" cy="0.0" rx="18.63" ry="27.00" fill="#fff" stroke="#111" stroke-width="1.2"/>
<ellipse cx="-835.6" cy="0.0" rx="14.83" ry="21.50" fill="#fff" stroke="#111" stroke-width="1.2"/>
<ellipse cx="-834.6" cy="0.0" rx="13.45" ry="19.50" fill="#fff" stroke="#111" stroke-width="1.2"/>
<ellipse cx="-834.6" cy="0.0" rx="8.62" ry="12.50" fill="#fff" stroke="#111" stroke-width="1.2"/>
<ellipse cx="-836.1" cy="0.0" rx="5.93" ry="8.60" fill="#fff" stroke="#222" stroke-width="2.16"/>
<ellipse cx="-836.6" cy="0.0" rx="3.59" ry="5.20" fill="#fff" stroke="#111" stroke-width="1.2"/>
<circle cx="-838.1" cy="-11" r="1.6" fill="#fff" stroke="#111" stroke-width="0.9"/>
</g>
<g id="detailY" transform="translate(190.3,276.8) rotate(-34.3)" fill="#fff" stroke="#111" stroke-width="1.1">
<path d="M30.3,37.9 L-1.0,48.9 L-22.6,11.0 L-12.9,-37.9 L18.4,-48.9 L40.0,-11.0Z" stroke-linejoin="round"/>
<path d="M21.6,37.9 L30.3,37.9"/>
<path d="M31.3,-11.0 L40.0,-11.0"/>
<path d="M9.7,-48.9 L18.4,-48.9"/>
<path d="M-21.6,-37.9 L-12.9,-37.9"/>
<path d="M21.6,37.9 L-9.7,48.9 L-31.3,11.0 L-21.6,-37.9 L9.7,-48.9 L31.3,-11.0Z" stroke-linejoin="round"/>
<path d="M-31.7,-30.8 L0,-30.8 A19.25,30.8 0 0 1 0,30.8 L-31.7,30.8Z" stroke="none"/>
<path d="M-31.7,-30.8 L-3,-30.8" fill="none"/>
<path d="M-31.7,30.8 L-4,30.8" fill="none"/>
<path d="M-3.3,-30.3 A19.25,30.8 0 0 1 5.0,29.8" fill="none" stroke="#111" stroke-width="1.0"/>
<path d="M-2.0,-30.2 A18.88,30.2 0 0 1 5.2,28.4" fill="none" stroke="#888" stroke-width="0.7"/>
<ellipse cx="-31.7" cy="0" rx="19.25" ry="30.8"/>
<clipPath id="boreY"><ellipse cx="-30.2" cy="0" rx="15.31" ry="24.5"/></clipPath>
<ellipse cx="-30.2" cy="0" rx="15.31" ry="24.5"/>
<g clip-path="url(#boreY)">
<ellipse cx="-25.6" cy="0" rx="14.38" ry="23" fill="none" stroke="#111" stroke-width="1.9"/>
<ellipse cx="-25.6" cy="0" rx="14.38" ry="23" fill="none" stroke="#bbb" stroke-width="0.6"/>
<ellipse cx="-21.0" cy="0" rx="14.38" ry="23" fill="none" stroke="#111" stroke-width="1.9"/>
<ellipse cx="-21.0" cy="0" rx="14.38" ry="23" fill="none" stroke="#bbb" stroke-width="0.6"/>
<ellipse cx="-16.4" cy="0" rx="14.38" ry="23" fill="none" stroke="#111" stroke-width="1.9"/>
<ellipse cx="-16.4" cy="0" rx="14.38" ry="23" fill="none" stroke="#bbb" stroke-width="0.6"/>
<ellipse cx="-11.8" cy="0" rx="14.38" ry="23" fill="none" stroke="#111" stroke-width="1.9"/>
<ellipse cx="-11.8" cy="0" rx="14.38" ry="23" fill="none" stroke="#bbb" stroke-width="0.6"/>
</g>
</g>
<g id="loctite" fill="#fff" stroke="#111" stroke-width="1.1">
<circle cx="130.5" cy="359.3" r="20.9" stroke-width="1.4"/>
<path d="M127.9,348.9 L128.7,344.6 Q130.6,341.6 132.8,344.6 L134,348.9Z"/>
<path d="M127.3,349.2 L134.4,349.2" stroke-width="1.5"/>
<rect x="128" y="350.4" width="5.6" height="2" fill="#999" stroke="none"/>
<path d="M126.3,352.7 L135.2,352.7 L136.9,374.5 L125,374.5Z"/>
<path d="M125.2,372.4 L136.8,372.4"/>
<text transform="translate(133.2,371) rotate(-90) scale(0.62,1)" font-family="Liberation Sans" font-weight="bold" font-size="6.2" fill="#111" stroke="none">LOCTITE</text>
</g>
<circle cx="1162.9" cy="330.1" r="20.7" fill="#fff" stroke="#111" stroke-width="1.4"/>
<g id="wrench" transform="translate(1138,305) scale(0.04085)" fill="#fff" stroke="#111" stroke-width="30" stroke-linejoin="round">
<path d="M600,625 L700,430 Q655,340 730,285 Q790,255 835,285 L775,330 Q765,375 808,395 L872,305 Q915,365 880,425 Q845,470 790,472 L715,615Z"/>
<path d="M480,800 L440,890 L510,940 L578,820Z"/>
<path d="M250,790 L340,612 L455,612 L555,548 L612,548 L628,602 L770,622 L745,690 L710,755 L640,815 L450,795 Z"/>
<path d="M650,662 L745,655 M622,722 L722,710 M592,776 L692,762" fill="none"/>
</g>
<g id="detailZ" fill="none" stroke="#111" stroke-width="1.34" stroke-linejoin="round">
<path d="M715.1,822.5 L756.5,822.5 L756.5,918.5 L751.7,918.5 L747.0,925.2 L736.3,925.2 L731.6,918.5 L715.0,918.5 L712.4,916.0 L712.4,901.3 L715.0,898.7 L742.7,898.7 L745.4,896.0 L745.4,845.0 L742.7,842.4 L715.0,842.4 L712.4,840.0 L712.4,825.0Z" fill="#fff" stroke="none"/>
<path d="M790.5,822.5 L795.3,822.5 L799.5,820.5 L801.2,815.0 L802.7,807.8 L818.2,807.8 L823.1,816.8 L828.9,817.6 L828.9,918.5 L820.2,918.5 L815.5,925.2 L803.2,925.2 L798.5,918.5 L790.5,918.5Z" fill="#fff" stroke="none"/>
<path d="M907.2,817.6 L936.9,817.6 L936.9,906.2 L944.0,909.5 L948.0,913.0 L944.0,918.6 L907.2,918.6Z" fill="#fff" stroke="none"/>
<path d="M1271.2,822.5 L1229.8,822.5 L1229.8,918.5 L1234.6,918.5 L1239.3,925.2 L1250.0,925.2 L1254.7,918.5 L1271.3,918.5 L1273.9,916.0 L1273.9,901.3 L1271.3,898.7 L1243.6,898.7 L1240.9,896.0 L1240.9,845.0 L1243.6,842.4 L1271.3,842.4 L1273.9,840.0 L1273.9,825.0Z" fill="#fff" stroke="none"/>
<path d="M1195.8,822.5 L1191.0,822.5 L1186.8,820.5 L1185.1,815.0 L1183.6,807.8 L1168.1,807.8 L1163.2,816.8 L1157.4,817.6 L1157.4,918.5 L1166.1,918.5 L1170.8,925.2 L1183.1,925.2 L1187.8,918.5 L1195.8,918.5Z" fill="#fff" stroke="none"/>
<path d="M1079.1,817.6 L1049.4,817.6 L1049.4,906.2 L1042.3,909.5 L1038.3,913.0 L1042.3,918.6 L1079.1,918.6Z" fill="#fff" stroke="none"/>
<clipPath id="hc1"><path d="M715.1,822.5 L756.5,822.5 L756.5,918.5 L751.7,918.5 L747.0,925.2 L736.3,925.2 L731.6,918.5 L715.0,918.5 L712.4,916.0 L712.4,901.3 L715.0,898.7 L742.7,898.7 L745.4,896.0 L745.4,845.0 L742.7,842.4 L715.0,842.4 L712.4,840.0 L712.4,825.0Z M790.5,822.5 L795.3,822.5 L799.5,820.5 L801.2,815.0 L802.7,807.8 L818.2,807.8 L823.1,816.8 L828.9,817.6 L828.9,918.5 L820.2,918.5 L815.5,925.2 L803.2,925.2 L798.5,918.5 L790.5,918.5Z M907.2,817.6 L936.9,817.6 L936.9,906.2 L944.0,909.5 L948.0,913.0 L944.0,918.6 L907.2,918.6Z M1271.2,822.5 L1229.8,822.5 L1229.8,918.5 L1234.6,918.5 L1239.3,925.2 L1250.0,925.2 L1254.7,918.5 L1271.3,918.5 L1273.9,916.0 L1273.9,901.3 L1271.3,898.7 L1243.6,898.7 L1240.9,896.0 L1240.9,845.0 L1243.6,842.4 L1271.3,842.4 L1273.9,840.0 L1273.9,825.0Z M1195.8,822.5 L1191.0,822.5 L1186.8,820.5 L1185.1,815.0 L1183.6,807.8 L1168.1,807.8 L1163.2,816.8 L1157.4,817.6 L1157.4,918.5 L1166.1,918.5 L1170.8,925.2 L1183.1,925.2 L1187.8,918.5 L1195.8,918.5Z M1079.1,817.6 L1049.4,817.6 L1049.4,906.2 L1042.3,909.5 L1038.3,913.0 L1042.3,918.6 L1079.1,918.6Z"/></clipPath>
<path d="M712.4,850.9 L1273.9,289.4 M712.4,895.7 L1273.9,334.2 M712.4,940.5 L1273.9,379.0 M712.4,985.3 L1273.9,423.8 M712.4,1030.1 L1273.9,468.6 M712.4,1074.9 L1273.9,513.4 M712.4,1119.7 L1273.9,558.2 M712.4,1164.5 L1273.9,603.0 M712.4,1209.3 L1273.9,647.8 M712.4,1254.1 L1273.9,692.6 M712.4,1298.9 L1273.9,737.4 M712.4,1343.7 L1273.9,782.2 M712.4,1388.5 L1273.9,827.0 M712.4,1433.3 L1273.9,871.8 M712.4,1478.1 L1273.9,916.6" clip-path="url(#hc1)" fill="none" stroke="#111" stroke-width="1.34"/>
<path d="M715.1,822.5 L756.5,822.5 L756.5,918.5 L751.7,918.5 L747.0,925.2 L736.3,925.2 L731.6,918.5 L715.0,918.5 L712.4,916.0 L712.4,901.3 L715.0,898.7 L742.7,898.7 L745.4,896.0 L745.4,845.0 L742.7,842.4 L715.0,842.4 L712.4,840.0 L712.4,825.0Z" stroke-width="1.40"/>
<path d="M790.5,822.5 L795.3,822.5 L799.5,820.5 L801.2,815.0 L802.7,807.8 L818.2,807.8 L823.1,816.8 L828.9,817.6 L828.9,918.5 L820.2,918.5 L815.5,925.2 L803.2,925.2 L798.5,918.5 L790.5,918.5Z" stroke-width="1.40"/>
<path d="M1271.2,822.5 L1229.8,822.5 L1229.8,918.5 L1234.6,918.5 L1239.3,925.2 L1250.0,925.2 L1254.7,918.5 L1271.3,918.5 L1273.9,916.0 L1273.9,901.3 L1271.3,898.7 L1243.6,898.7 L1240.9,896.0 L1240.9,845.0 L1243.6,842.4 L1271.3,842.4 L1273.9,840.0 L1273.9,825.0Z" stroke-width="1.40"/>
<path d="M1195.8,822.5 L1191.0,822.5 L1186.8,820.5 L1185.1,815.0 L1183.6,807.8 L1168.1,807.8 L1163.2,816.8 L1157.4,817.6 L1157.4,918.5 L1166.1,918.5 L1170.8,925.2 L1183.1,925.2 L1187.8,918.5 L1195.8,918.5Z" stroke-width="1.40"/>
<path d="M909.0,785.6 L974.7,785.6 L993.6,797.1 L1013.3,785.6 L1077.3,785.6 L1077.3,809.5 L1074.0,813.5 L1062.0,817.6 L1049.4,817.6 L1049.4,905.0 L1042.0,909.0 L1037.0,914.0 L1040.0,918.6 L1040.0,966.0 L993.0,967.2 L946.0,966.0 L946.0,918.6 L949.0,914.0 L944.0,909.0 L936.9,905.0 L936.9,817.6 L924.0,817.6 L912.3,813.5 L909.0,809.5Z" fill="#fff" stroke="none"/>
<clipPath id="hc2"><path d="M909.0,785.6 L974.7,785.6 L993.6,797.1 L1013.3,785.6 L1077.3,785.6 L1077.3,809.5 L1074.0,813.5 L1062.0,817.6 L1049.4,817.6 L1049.4,905.0 L1042.0,909.0 L1037.0,914.0 L1040.0,918.6 L1040.0,966.0 L993.0,967.2 L946.0,966.0 L946.0,918.6 L949.0,914.0 L944.0,909.0 L936.9,905.0 L936.9,817.6 L924.0,817.6 L912.3,813.5 L909.0,809.5Z"/></clipPath>
<path d="M909.0,797.1 L1077.3,628.8 M909.0,814.3 L1077.3,646.0 M909.0,831.5 L1077.3,663.2 M909.0,848.7 L1077.3,680.4 M909.0,865.9 L1077.3,697.6 M909.0,883.1 L1077.3,714.8 M909.0,900.3 L1077.3,732.0 M909.0,917.5 L1077.3,749.2 M909.0,934.7 L1077.3,766.4 M909.0,951.9 L1077.3,783.6 M909.0,969.1 L1077.3,800.8 M909.0,986.3 L1077.3,818.0 M909.0,1003.5 L1077.3,835.2 M909.0,1020.7 L1077.3,852.4 M909.0,1037.9 L1077.3,869.6 M909.0,1055.1 L1077.3,886.8 M909.0,1072.3 L1077.3,904.0 M909.0,1089.5 L1077.3,921.2 M909.0,1106.7 L1077.3,938.4 M909.0,1123.9 L1077.3,955.6" clip-path="url(#hc2)" fill="none" stroke="#111" stroke-width="1.34"/>
<path d="M909.0,785.6 L974.7,785.6 L993.6,797.1 L1013.3,785.6 L1077.3,785.6 L1077.3,809.5 L1074.0,813.5 L1062.0,817.6 L1049.4,817.6" stroke-width="1.46" />
<path d="M909,785.6 L909,809.5 L912.3,813.5 L924,817.6 L936.9,817.6 L936.9,905" stroke-width="1.46"/>
<path d="M1062,817.6 L1049.4,817.6 L1049.4,905" stroke-width="1.46"/>
<path d="M935.4,819 L935.4,905 M1050.9,819 L1050.9,905" stroke="#444" stroke-width="0.98"/>
<path d="M918.4,918.6 L946.0,918.6 L946.0,965.6 L918.4,965.3Z" fill="#fff" stroke="none"/>
<path d="M1067.9,918.6 L1040.3,918.6 L1040.3,965.6 L1067.9,965.3Z" fill="#fff" stroke="none"/>
<clipPath id="hc3"><path d="M918.4,918.6 L946.0,918.6 L946.0,965.6 L918.4,965.3Z M1067.9,918.6 L1040.3,918.6 L1040.3,965.6 L1067.9,965.3Z"/></clipPath>
<path d="M918.4,920.2 L1067.9,770.7 M918.4,927.9 L1067.9,778.4 M918.4,935.6 L1067.9,786.1 M918.4,943.3 L1067.9,793.8 M918.4,951.0 L1067.9,801.5 M918.4,958.7 L1067.9,809.2 M918.4,966.4 L1067.9,816.9 M918.4,974.1 L1067.9,824.6 M918.4,981.8 L1067.9,832.3 M918.4,989.5 L1067.9,840.0 M918.4,997.2 L1067.9,847.7 M918.4,1004.9 L1067.9,855.4 M918.4,1012.6 L1067.9,863.1 M918.4,1020.3 L1067.9,870.8 M918.4,1028.0 L1067.9,878.5 M918.4,1035.7 L1067.9,886.2 M918.4,1043.4 L1067.9,893.9 M918.4,1051.1 L1067.9,901.6 M918.4,1058.8 L1067.9,909.3 M918.4,1066.5 L1067.9,917.0 M918.4,1074.2 L1067.9,924.7 M918.4,1081.9 L1067.9,932.4 M918.4,1089.6 L1067.9,940.1 M918.4,1097.3 L1067.9,947.8 M918.4,1105.0 L1067.9,955.5 M918.4,1112.7 L1067.9,963.2" clip-path="url(#hc3)" fill="none" stroke="#111" stroke-width="1.22"/>
<path d="M918.4,918.6 L918.4,965.3 Q993,968.5 1068,965.3 L1068,918.6" stroke-width="1.46"/>
<path d="M918.4,918.6 L946,918.6 M1040,918.6 L1068,918.6" stroke-width="1.46"/>
<path d="M938.0,919.0 L951.0,924.9 L938.0,930.8 L951.0,936.6 L938.0,942.5 L951.0,948.4 L938.0,954.2 L951.0,960.1 L938.0,966.0" stroke-width="1.22" fill="none"/>
<path d="M941.0,919.0 L954.0,924.9 L941.0,930.8 L954.0,936.6 L941.0,942.5 L954.0,948.4 L941.0,954.2 L954.0,960.1 L941.0,966.0" stroke-width="1.22" fill="none"/>
<path d="M1048.0,919.0 L1035.0,924.9 L1048.0,930.8 L1035.0,936.6 L1048.0,942.5 L1035.0,948.4 L1048.0,954.2 L1035.0,960.1 L1048.0,966.0" stroke-width="1.22" fill="none"/>
<path d="M1045.0,919.0 L1032.0,924.9 L1045.0,930.8 L1032.0,936.6 L1045.0,942.5 L1032.0,948.4 L1045.0,954.2 L1032.0,960.1 L1045.0,966.0" stroke-width="1.22" fill="none"/>
<path d="M938,919.0 L954,921.0 M1048,919.0 L1032,921.0" stroke-width="0.98"/>
<path d="M938,930.8 L954,932.8 M1048,930.8 L1032,932.8" stroke-width="0.98"/>
<path d="M938,942.5 L954,944.5 M1048,942.5 L1032,944.5" stroke-width="0.98"/>
<path d="M938,954.2 L954,956.2 M1048,954.2 L1032,956.2" stroke-width="0.98"/>
<path d="M936.9,905 L948.5,911 L948.5,914.5 L934,918.4" stroke-width="1.22"/>
<path d="M1049.4,905 L1037.8,911 L1037.8,914.5 L1052.3,918.4" stroke-width="1.22"/>
<path d="M907.2,817.6 L907.2,918.6 M1079.1,817.6 L1079.1,918.6" stroke-width="1.34"/>
<path d="M823.1,816.6 L936.9,816.6 M823.1,818.2 L936.9,818.2" stroke-width="1.10"/>
<path d="M819.8,918.6 L919.0,918.6" stroke-width="1.46"/>
<path d="M819.8,917.2 L907.0,917.2" stroke-width="0.85" stroke="#555"/>
<path d="M830.4,818.5 L830.4,917" stroke-width="0.98" stroke="#333"/>
<path d="M852.7,818.5 L852.7,917 M875.6,818.5 L875.6,917" stroke-width="1.10" stroke="#666"/>
<path d="M756.5,822.5 L756.5,918.5 M790.5,822.5 L790.5,918.5" stroke-width="1.34"/>
<path d="M756.5,822.5 L790.5,822.5 M751.7,918.5 L798.5,918.5" stroke-width="1.34"/>
<path d="M752.5,920 L797.5,920" stroke-width="0.73" stroke="#666"/>
<rect x="800.5" y="796.3" width="108" height="11.5" fill="#fff" stroke-width="1.34"/>
<path d="M800.5,798.6 L908.5,798.6" stroke-width="1.10"/>
<path d="M800.5,800.9 L908.5,800.9" stroke-width="1.10"/>
<path d="M800.5,803.2 L908.5,803.2" stroke-width="1.10"/>
<path d="M800.5,805.5 L908.5,805.5" stroke-width="1.10"/>
<path d="M829.0,798 L827.0,800.9 L830.0,803.2 L828.0,806.5" stroke-width="0.98"/>
<path d="M860.0,798 L858.0,800.9 L861.0,803.2 L859.0,806.5" stroke-width="0.98"/>
<path d="M890.0,798 L888.0,800.9 L891.0,803.2 L889.0,806.5" stroke-width="0.98"/>
<path d="M802.7,809.2 L907.0,809.2" stroke-width="0.85" stroke="#555"/>
<path d="M879.0,785.6 L899.5,785.6 L899.5,796.3 L884.5,796.3 L881.5,790.0Z" fill="#fff" stroke-width="1.22"/>
<clipPath id="hc4"><path d="M879.0,785.6 L899.5,785.6 L899.5,796.3 L884.5,796.3 L881.5,790.0Z"/></clipPath>
<path d="M879.0,795.0 L899.5,815.5 M879.0,790.8 L899.5,811.3 M879.0,786.6 L899.5,807.1 M879.0,782.4 L899.5,802.9 M879.0,778.2 L899.5,798.7 M879.0,774.0 L899.5,794.5 M879.0,769.8 L899.5,790.3 M879.0,765.6 L899.5,786.1" clip-path="url(#hc4)" fill="none" stroke="#111" stroke-width="1.22"/>
<path d="M1163.2,816.6 L1049.4,816.6 M1163.2,818.2 L1049.4,818.2" stroke-width="1.10"/>
<path d="M1166.5,918.6 L1067.3,918.6" stroke-width="1.46"/>
<path d="M1166.5,917.2 L1079.3,917.2" stroke-width="0.85" stroke="#555"/>
<path d="M1155.9,818.5 L1155.9,917" stroke-width="0.98" stroke="#333"/>
<path d="M1133.6,818.5 L1133.6,917 M1110.7,818.5 L1110.7,917" stroke-width="1.10" stroke="#666"/>
<path d="M1229.8,822.5 L1229.8,918.5 M1195.8,822.5 L1195.8,918.5" stroke-width="1.34"/>
<path d="M1229.8,822.5 L1195.8,822.5 M1234.6,918.5 L1187.8,918.5" stroke-width="1.34"/>
<path d="M1233.8,920 L1188.8,920" stroke-width="0.73" stroke="#666"/>
<rect x="1077.8" y="796.3" width="108" height="11.5" fill="#fff" stroke-width="1.34"/>
<path d="M1185.8,798.6 L1077.8,798.6" stroke-width="1.10"/>
<path d="M1185.8,800.9 L1077.8,800.9" stroke-width="1.10"/>
<path d="M1185.8,803.2 L1077.8,803.2" stroke-width="1.10"/>
<path d="M1185.8,805.5 L1077.8,805.5" stroke-width="1.10"/>
<path d="M1157.3,798 L1159.3,800.9 L1156.3,803.2 L1158.3,806.5" stroke-width="0.98"/>
<path d="M1126.3,798 L1128.3,800.9 L1125.3,803.2 L1127.3,806.5" stroke-width="0.98"/>
<path d="M1096.3,798 L1098.3,800.9 L1095.3,803.2 L1097.3,806.5" stroke-width="0.98"/>
<path d="M1183.6,809.2 L1079.3,809.2" stroke-width="0.85" stroke="#555"/>
<path d="M1107.3,785.6 L1086.8,785.6 L1086.8,796.3 L1101.8,796.3 L1104.8,790.0Z" fill="#fff" stroke-width="1.22"/>
<clipPath id="hc5"><path d="M1107.3,785.6 L1086.8,785.6 L1086.8,796.3 L1101.8,796.3 L1104.8,790.0Z"/></clipPath>
<path d="M1086.8,792.8 L1107.3,813.3 M1086.8,788.6 L1107.3,809.1 M1086.8,784.4 L1107.3,804.9 M1086.8,780.2 L1107.3,800.7 M1086.8,776.0 L1107.3,796.5 M1086.8,771.8 L1107.3,792.3 M1086.8,767.6 L1107.3,788.1" clip-path="url(#hc5)" fill="none" stroke="#111" stroke-width="1.22"/>
<path d="M731,925.6 L919,925.6 L919,932.6 L731,932.6Z" fill="#fff" stroke-width="1.34"/>
<path d="M731,927.5 L819,926.5 M731,932 L820,928.8 M820,925.6 L820,932.6 M872,925.6 L872,932.6 M731,929.8 L790,932.4" stroke-width="0.98"/>
<path d="M1069,925.6 L1255.4,925.6 L1255.4,932.6 L1069,932.6Z" fill="#fff" stroke-width="1.34"/>
<path d="M1070,932 L1255,927.5 M1070,928.6 L1170,925.9 M1110,932.4 L1255,930" stroke-width="0.98"/>
<circle cx="731.0" cy="871.7" r="21.6" fill="none" stroke-width="1.34"/>
<clipPath id="hc6"><circle cx="731.0" cy="871.7" r="21.6"/></clipPath>
<path d="M708.0,875.0 L754.0,829.0 M708.0,889.0 L754.0,843.0 M708.0,903.0 L754.0,857.0 M708.0,917.0 L754.0,871.0 M708.0,931.0 L754.0,885.0 M708.0,945.0 L754.0,899.0" clip-path="url(#hc6)" stroke-width="1.22"/>
<circle cx="1255.3" cy="871.7" r="21.6" fill="none" stroke-width="1.34"/>
<clipPath id="hc7"><circle cx="1255.3" cy="871.7" r="21.6"/></clipPath>
<path d="M1232.3,868.7 L1278.3,822.7 M1232.3,882.7 L1278.3,836.7 M1232.3,896.7 L1278.3,850.7 M1232.3,910.7 L1278.3,864.7 M1232.3,924.7 L1278.3,878.7 M1232.3,938.7 L1278.3,892.7" clip-path="url(#hc7)" stroke-width="1.22"/>
<circle cx="903" cy="893.1" r="4" fill="#fff" stroke-width="1.22"/>
<circle cx="903" cy="903" r="4" fill="#fff" stroke-width="1.22"/>
<path d="M899.8,904.5 L904.5,899.8 M901,906.4 L906.4,901 M899.4,902 L902,899.4 M903.5,906.8 L906.8,903.5" stroke-width="0.98"/>
<circle cx="1083.5" cy="896.1" r="4" fill="#fff" stroke-width="1.22"/>
<path d="M1080.3,897.6 L1085.0,892.9 M1081.5,899.5 L1086.9,894.1 M1079.9,895.1 L1082.5,892.5 M1084.0,899.9 L1087.3,896.6" stroke-width="0.98"/>
<circle cx="1083" cy="940.7" r="4" fill="#fff" stroke-width="1.22"/>
<path d="M1079.8,942.2 L1084.5,937.5 M1081,944.1 L1086.4,938.7 M1079.4,939.7 L1082,937.1 M1083.5,944.5 L1086.8,941.2" stroke-width="0.98"/>
<path d="M1069,932.6 Q1076,935 1080,939" stroke-width="1.10"/>
<path d="M851.5,785.6 L1110.2,785.6" stroke-width="1.22"/>
</g>
<g id="sectionAA" fill="#fff" stroke="#111" stroke-width="1.3" stroke-linejoin="miter">
<path d="M1352,805.4 L1395.6,805.4 L1395.6,879 L1352,879Z" stroke-width="1.2"/>
<path d="M1353.9,806.5 L1353.9,878 M1393.7,806.5 L1393.7,878" stroke-width="0.9"/>
<path d="M1344.3,657.1 L1403.4,657.1 L1403.4,662.6 L1412.5,662.6 L1412.5,666.6 L1409.3,667.6 L1409.3,688.0 L1403.0,690.0 L1403.0,704.5 L1344.6,704.5 L1344.6,690.0 L1338.4,688.0 L1338.4,667.6 L1335.1,666.6 L1335.1,662.6 L1344.3,662.6Z" stroke-width="1.4"/>
<path d="M1338.4,675.5 L1337.5,676.8 L1338.4,678.0 L1337.5,679.2 L1338.4,680.5 L1337.5,681.8 L1338.4,683.0 L1337.5,684.2 L1338.4,685.5 L1337.5,686.8" stroke-width="0.9" fill="none"/>
<circle cx="1337.6" cy="673.5" r="1.9" stroke-width="1"/>
<path d="M1409.3,675.5 L1410.2,676.8 L1409.3,678.0 L1410.2,679.2 L1409.3,680.5 L1410.2,681.8 L1409.3,683.0 L1410.2,684.2 L1409.3,685.5 L1410.2,686.8" stroke-width="0.9" fill="none"/>
<circle cx="1410.1" cy="673.5" r="1.9" stroke-width="1"/>
<rect x="1348.5" y="657.7" width="51" height="11.5" stroke-width="1.5"/>
<path d="M1354.4,669.2 L1362.9,669.2 L1362.9,672.5 L1354.4,672.5Z" stroke-width="1.1"/>
<path d="M1393.2,669.2 L1384.7,669.2 L1384.7,672.5 L1393.2,672.5Z" stroke-width="1.1"/>
<rect x="1347.9" y="675.3" width="12.4" height="28.8" stroke-width="1.2"/>
<rect x="1348.5" y="678.3" width="11.2" height="12.8" fill="#111" stroke="none"/>
<path d="M1348.5,692.5 L1359.7,692.5" stroke-width="1.6" stroke="#222"/>
<path d="M1348.5,694.8 L1359.7,694.8" stroke-width="1.6" stroke="#222"/>
<path d="M1348.5,697.1 L1359.7,697.1" stroke-width="1.6" stroke="#222"/>
<path d="M1348.5,699.4 L1359.7,699.4" stroke-width="1.6" stroke="#222"/>
<path d="M1348.5,701.7 L1359.7,701.7" stroke-width="1.6" stroke="#222"/>
<rect x="1387.2" y="675.3" width="12.4" height="28.8" stroke-width="1.2"/>
<rect x="1387.8" y="678.3" width="11.2" height="12.8" fill="#111" stroke="none"/>
<path d="M1387.8,692.5 L1399.0,692.5" stroke-width="1.6" stroke="#222"/>
<path d="M1387.8,694.8 L1399.0,694.8" stroke-width="1.6" stroke="#222"/>
<path d="M1387.8,697.1 L1399.0,697.1" stroke-width="1.6" stroke="#222"/>
<path d="M1387.8,699.4 L1399.0,699.4" stroke-width="1.6" stroke="#222"/>
<path d="M1387.8,701.7 L1399.0,701.7" stroke-width="1.6" stroke="#222"/>
<circle cx="1358.3" cy="677" r="1.2" fill="#fff" stroke="none"/>
<circle cx="1358.3" cy="683.2" r="1.2" fill="#fff" stroke="none"/>
<circle cx="1358.3" cy="695.7" r="1.2" fill="#fff" stroke="none"/>
<circle cx="1389.4" cy="679" r="1.2" fill="#fff" stroke="none"/>
<circle cx="1389.4" cy="689.4" r="1.2" fill="#fff" stroke="none"/>
<circle cx="1389.4" cy="701.9" r="1.2" fill="#fff" stroke="none"/>
<rect x="1362.6" y="669.2" width="22.4" height="210" stroke="none"/>
<path d="M1362.6,690 L1362.6,742 M1385,690 L1385,742" stroke-width="1.0"/>
<rect x="1364.4" y="669.5" width="18.9" height="237" stroke-width="1.1"/>
<rect x="1367.8" y="650.2" width="12.1" height="256" stroke-width="1.2"/>
<rect x="1370.1" y="650.6" width="7.3" height="12" fill="#111" stroke="none"/>
<rect x="1371.8" y="662.8" width="4.2" height="4" stroke-width="0.9"/>
<clipPath id="hc8"><rect x="1367.8" y="663" width="12.1" height="243"/></clipPath>
<path d="M1367.8,600.0 L1379.9,637.0 M1367.8,623.5 L1379.9,660.5 M1367.8,647.0 L1379.9,684.0 M1367.8,670.5 L1379.9,707.5 M1367.8,694.0 L1379.9,731.0 M1367.8,717.5 L1379.9,754.5 M1367.8,741.0 L1379.9,778.0 M1367.8,764.5 L1379.9,801.5 M1367.8,788.0 L1379.9,825.0 M1367.8,811.5 L1379.9,848.5 M1367.8,835.0 L1379.9,872.0 M1367.8,858.5 L1379.9,895.5 M1367.8,882.0 L1379.9,919.0 M1367.8,905.5 L1379.9,942.5" clip-path="url(#hc8)" stroke-width="1.0" fill="none"/>
<path d="M1358.4,707.7 L1363.2,710.5" stroke="#111" stroke-width="4.6" stroke-linecap="round" fill="none"/>
<path d="M1358.4,707.7 L1363.2,710.5" stroke="#fff" stroke-width="2.4" stroke-linecap="round" fill="none"/>
<circle cx="1358.4" cy="707.7" r="1.9" stroke-width="1.0"/>
<path d="M1358.4,720.2 L1363.2,723.0" stroke="#111" stroke-width="4.6" stroke-linecap="round" fill="none"/>
<path d="M1358.4,720.2 L1363.2,723.0" stroke="#fff" stroke-width="2.4" stroke-linecap="round" fill="none"/>
<circle cx="1358.4" cy="720.2" r="1.9" stroke-width="1.0"/>
<path d="M1358.4,732.6 L1363.2,735.4" stroke="#111" stroke-width="4.6" stroke-linecap="round" fill="none"/>
<path d="M1358.4,732.6 L1363.2,735.4" stroke="#fff" stroke-width="2.4" stroke-linecap="round" fill="none"/>
<circle cx="1358.4" cy="732.6" r="1.9" stroke-width="1.0"/>
<path d="M1358.4,745.1 L1363.2,747.9" stroke="#111" stroke-width="4.6" stroke-linecap="round" fill="none"/>
<path d="M1358.4,745.1 L1363.2,747.9" stroke="#fff" stroke-width="2.4" stroke-linecap="round" fill="none"/>
<circle cx="1358.4" cy="745.1" r="1.9" stroke-width="1.0"/>
<path d="M1358.4,757.5 L1363.2,760.3" stroke="#111" stroke-width="4.6" stroke-linecap="round" fill="none"/>
<path d="M1358.4,757.5 L1363.2,760.3" stroke="#fff" stroke-width="2.4" stroke-linecap="round" fill="none"/>
<circle cx="1358.4" cy="757.5" r="1.9" stroke-width="1.0"/>
<path d="M1358.4,770.0 L1363.2,772.8" stroke="#111" stroke-width="4.6" stroke-linecap="round" fill="none"/>
<path d="M1358.4,770.0 L1363.2,772.8" stroke="#fff" stroke-width="2.4" stroke-linecap="round" fill="none"/>
<circle cx="1358.4" cy="770.0" r="1.9" stroke-width="1.0"/>
<path d="M1358.4,782.4 L1363.2,785.2" stroke="#111" stroke-width="4.6" stroke-linecap="round" fill="none"/>
<path d="M1358.4,782.4 L1363.2,785.2" stroke="#fff" stroke-width="2.4" stroke-linecap="round" fill="none"/>
<circle cx="1358.4" cy="782.4" r="1.9" stroke-width="1.0"/>
<path d="M1358.4,794.9 L1363.2,797.6" stroke="#111" stroke-width="4.6" stroke-linecap="round" fill="none"/>
<path d="M1358.4,794.9 L1363.2,797.6" stroke="#fff" stroke-width="2.4" stroke-linecap="round" fill="none"/>
<circle cx="1358.4" cy="794.9" r="1.9" stroke-width="1.0"/>
<path d="M1358.4,807.3 L1363.2,810.1" stroke="#111" stroke-width="4.6" stroke-linecap="round" fill="none"/>
<path d="M1358.4,807.3 L1363.2,810.1" stroke="#fff" stroke-width="2.4" stroke-linecap="round" fill="none"/>
<circle cx="1358.4" cy="807.3" r="1.9" stroke-width="1.0"/>
<path d="M1358.4,819.8 L1363.2,822.5" stroke="#111" stroke-width="4.6" stroke-linecap="round" fill="none"/>
<path d="M1358.4,819.8 L1363.2,822.5" stroke="#fff" stroke-width="2.4" stroke-linecap="round" fill="none"/>
<circle cx="1358.4" cy="819.8" r="1.9" stroke-width="1.0"/>
<path d="M1358.4,832.2 L1363.2,835.0" stroke="#111" stroke-width="4.6" stroke-linecap="round" fill="none"/>
<path d="M1358.4,832.2 L1363.2,835.0" stroke="#fff" stroke-width="2.4" stroke-linecap="round" fill="none"/>
<circle cx="1358.4" cy="832.2" r="1.9" stroke-width="1.0"/>
<path d="M1358.4,844.7 L1363.2,847.5" stroke="#111" stroke-width="4.6" stroke-linecap="round" fill="none"/>
<path d="M1358.4,844.7 L1363.2,847.5" stroke="#fff" stroke-width="2.4" stroke-linecap="round" fill="none"/>
<circle cx="1358.4" cy="844.7" r="1.9" stroke-width="1.0"/>
<path d="M1358.4,857.1 L1363.2,859.9" stroke="#111" stroke-width="4.6" stroke-linecap="round" fill="none"/>
<path d="M1358.4,857.1 L1363.2,859.9" stroke="#fff" stroke-width="2.4" stroke-linecap="round" fill="none"/>
<circle cx="1358.4" cy="857.1" r="1.9" stroke-width="1.0"/>
<path d="M1358.4,869.6 L1363.2,872.4" stroke="#111" stroke-width="4.6" stroke-linecap="round" fill="none"/>
<path d="M1358.4,869.6 L1363.2,872.4" stroke="#fff" stroke-width="2.4" stroke-linecap="round" fill="none"/>
<circle cx="1358.4" cy="869.6" r="1.9" stroke-width="1.0"/>
<path d="M1389.2,714.0 L1384.4,711.2" stroke="#111" stroke-width="4.6" stroke-linecap="round" fill="none"/>
<path d="M1389.2,714.0 L1384.4,711.2" stroke="#fff" stroke-width="2.4" stroke-linecap="round" fill="none"/>
<circle cx="1389.2" cy="714.0" r="1.9" stroke-width="1.0"/>
<path d="M1389.2,726.5 L1384.4,723.7" stroke="#111" stroke-width="4.6" stroke-linecap="round" fill="none"/>
<path d="M1389.2,726.5 L1384.4,723.7" stroke="#fff" stroke-width="2.4" stroke-linecap="round" fill="none"/>
<circle cx="1389.2" cy="726.5" r="1.9" stroke-width="1.0"/>
<path d="M1389.2,738.9 L1384.4,736.1" stroke="#111" stroke-width="4.6" stroke-linecap="round" fill="none"/>
<path d="M1389.2,738.9 L1384.4,736.1" stroke="#fff" stroke-width="2.4" stroke-linecap="round" fill="none"/>
<circle cx="1389.2" cy="738.9" r="1.9" stroke-width="1.0"/>
<path d="M1389.2,751.4 L1384.4,748.6" stroke="#111" stroke-width="4.6" stroke-linecap="round" fill="none"/>
<path d="M1389.2,751.4 L1384.4,748.6" stroke="#fff" stroke-width="2.4" stroke-linecap="round" fill="none"/>
<circle cx="1389.2" cy="751.4" r="1.9" stroke-width="1.0"/>
<path d="M1389.2,763.8 L1384.4,761.0" stroke="#111" stroke-width="4.6" stroke-linecap="round" fill="none"/>
<path d="M1389.2,763.8 L1384.4,761.0" stroke="#fff" stroke-width="2.4" stroke-linecap="round" fill="none"/>
<circle cx="1389.2" cy="763.8" r="1.9" stroke-width="1.0"/>
<path d="M1389.2,776.2 L1384.4,773.5" stroke="#111" stroke-width="4.6" stroke-linecap="round" fill="none"/>
<path d="M1389.2,776.2 L1384.4,773.5" stroke="#fff" stroke-width="2.4" stroke-linecap="round" fill="none"/>
<circle cx="1389.2" cy="776.2" r="1.9" stroke-width="1.0"/>
<path d="M1389.2,788.7 L1384.4,785.9" stroke="#111" stroke-width="4.6" stroke-linecap="round" fill="none"/>
<path d="M1389.2,788.7 L1384.4,785.9" stroke="#fff" stroke-width="2.4" stroke-linecap="round" fill="none"/>
<circle cx="1389.2" cy="788.7" r="1.9" stroke-width="1.0"/>
<path d="M1389.2,801.1 L1384.4,798.4" stroke="#111" stroke-width="4.6" stroke-linecap="round" fill="none"/>
<path d="M1389.2,801.1 L1384.4,798.4" stroke="#fff" stroke-width="2.4" stroke-linecap="round" fill="none"/>
<circle cx="1389.2" cy="801.1" r="1.9" stroke-width="1.0"/>
<path d="M1389.2,813.6 L1384.4,810.8" stroke="#111" stroke-width="4.6" stroke-linecap="round" fill="none"/>
<path d="M1389.2,813.6 L1384.4,810.8" stroke="#fff" stroke-width="2.4" stroke-linecap="round" fill="none"/>
<circle cx="1389.2" cy="813.6" r="1.9" stroke-width="1.0"/>
<path d="M1389.2,826.0 L1384.4,823.2" stroke="#111" stroke-width="4.6" stroke-linecap="round" fill="none"/>
<path d="M1389.2,826.0 L1384.4,823.2" stroke="#fff" stroke-width="2.4" stroke-linecap="round" fill="none"/>
<circle cx="1389.2" cy="826.0" r="1.9" stroke-width="1.0"/>
<path d="M1389.2,838.5 L1384.4,835.7" stroke="#111" stroke-width="4.6" stroke-linecap="round" fill="none"/>
<path d="M1389.2,838.5 L1384.4,835.7" stroke="#fff" stroke-width="2.4" stroke-linecap="round" fill="none"/>
<circle cx="1389.2" cy="838.5" r="1.9" stroke-width="1.0"/>
<path d="M1389.2,851.0 L1384.4,848.2" stroke="#111" stroke-width="4.6" stroke-linecap="round" fill="none"/>
<path d="M1389.2,851.0 L1384.4,848.2" stroke="#fff" stroke-width="2.4" stroke-linecap="round" fill="none"/>
<circle cx="1389.2" cy="851.0" r="1.9" stroke-width="1.0"/>
<path d="M1389.2,863.4 L1384.4,860.6" stroke="#111" stroke-width="4.6" stroke-linecap="round" fill="none"/>
<path d="M1389.2,863.4 L1384.4,860.6" stroke="#fff" stroke-width="2.4" stroke-linecap="round" fill="none"/>
<circle cx="1389.2" cy="863.4" r="1.9" stroke-width="1.0"/>
<path d="M1389.2,875.9 L1384.4,873.1" stroke="#111" stroke-width="4.6" stroke-linecap="round" fill="none"/>
<path d="M1389.2,875.9 L1384.4,873.1" stroke="#fff" stroke-width="2.4" stroke-linecap="round" fill="none"/>
<circle cx="1389.2" cy="875.9" r="1.9" stroke-width="1.0"/>
<path d="M1364.4,705 L1364.4,879 M1383.3,705 L1383.3,879" stroke-width="1.1" fill="none"/>
<path d="M1384,752 Q1393,750 1393.5,758 Q1393,765 1384.5,762.5 Q1381.5,757 1384,752Z" fill="none" stroke="#4a90d9" stroke-width="0.9"/>
<rect x="1351.4" y="880.4" width="13.0" height="16.8" rx="1.5" stroke-width="1.3"/>
<rect x="1383.3" y="880.4" width="13.6" height="16.8" rx="1.5" stroke-width="1.3"/>
<circle cx="1354.3" cy="888.7" r="1.5" stroke-width="1"/>
<circle cx="1358.5" cy="886.6" r="1.5" stroke-width="1"/>
<circle cx="1363" cy="891" r="1.5" stroke-width="1"/>
<circle cx="1384.7" cy="891" r="1.5" stroke-width="1"/>
<circle cx="1389.3" cy="884.5" r="1.5" stroke-width="1"/>
<circle cx="1394.2" cy="888.7" r="1.5" stroke-width="1"/>
<circle cx="1358.3" cy="881" r="1.5" stroke-width="1"/>
<circle cx="1389.4" cy="881" r="1.5" stroke-width="1"/>
<rect x="1355" y="873" width="6" height="7.4" stroke-width="1"/><rect x="1386.6" y="873" width="6" height="7.4" stroke-width="1"/>
<path d="M1355.6,906.6 L1392.0,906.6 L1392.0,910.5 L1389.6,918.8 L1381.0,918.8 L1381.0,913.5 L1366.6,913.5 L1366.6,918.8 L1358.0,918.8 L1355.6,910.5Z" stroke-width="1.2"/>
<clipPath id="hc9"><path d="M1355.6,906.6 L1364.0,906.6 L1364.0,918.8 L1358.0,918.8 L1355.6,910.5Z"/></clipPath>
<path d="M1355.6,918.8 L1364.0,927.2 M1355.6,916.2 L1364.0,924.6 M1355.6,913.6 L1364.0,922.0 M1355.6,911.0 L1364.0,919.4 M1355.6,908.4 L1364.0,916.8 M1355.6,905.8 L1364.0,914.2 M1355.6,903.2 L1364.0,911.6 M1355.6,900.6 L1364.0,909.0" clip-path="url(#hc9)" fill="none" stroke="#111" stroke-width="0.9"/>
<clipPath id="hc10"><path d="M1392.0,906.6 L1383.6,906.6 L1383.6,918.8 L1389.6,918.8 L1392.0,910.5Z"/></clipPath>
<path d="M1383.6,918.2 L1392.0,926.6 M1383.6,915.6 L1392.0,924.0 M1383.6,913.0 L1392.0,921.4 M1383.6,910.4 L1392.0,918.8 M1383.6,907.8 L1392.0,916.2 M1383.6,905.2 L1392.0,913.6 M1383.6,902.6 L1392.0,911.0 M1383.6,900.0 L1392.0,908.4" clip-path="url(#hc10)" fill="none" stroke="#111" stroke-width="0.9"/>
<path d="M1361.0,907.5 L1361.0,911.2 M1362.3,907.5 L1362.3,911.2 M1363.7,907.5 L1363.7,911.2 M1365.0,907.5 L1365.0,911.2 M1366.4,907.5 L1366.4,911.2 M1367.8,907.5 L1367.8,911.2 M1369.1,907.5 L1369.1,911.2 M1370.5,907.5 L1370.5,911.2 M1371.8,907.5 L1371.8,911.2 M1373.2,907.5 L1373.2,911.2 M1374.5,907.5 L1374.5,911.2 M1375.8,907.5 L1375.8,911.2 M1377.2,907.5 L1377.2,911.2 M1378.5,907.5 L1378.5,911.2 M1379.9,907.5 L1379.9,911.2 M1381.2,907.5 L1381.2,911.2 M1382.6,907.5 L1382.6,911.2 M1384.0,907.5 L1384.0,911.2 M1385.3,907.5 L1385.3,911.2 M1386.7,907.5 L1386.7,911.2" stroke-width="0.8" fill="none"/>
<path d="M1369.9,913.5 L1369.9,919.5 L1373.6,923.5 L1377.3,919.5 L1377.3,913.5" stroke-width="1.0"/>
<path d="M1364.5,913.5 L1364.5,926 M1366.3,913.5 L1366.3,926 M1383.1,913.5 L1383.1,926 M1381.3,913.5 L1381.3,926" stroke-width="0.9" fill="none"/>
<rect x="1351.1" y="926.2" width="17.2" height="7.7" stroke-width="1.4"/>
<rect x="1378.9" y="926.2" width="18.0" height="7.7" stroke-width="1.4"/>
<path d="M1357.5,926.5 L1357.5,933.6 M1359.0,926.5 L1359.0,933.6 M1360.5,926.5 L1360.5,933.6 M1362.0,926.5 L1362.0,933.6 M1363.5,926.5 L1363.5,933.6 M1365.0,926.5 L1365.0,933.6 M1366.5,926.5 L1366.5,933.6 M1380.5,926.5 L1380.5,933.6 M1382.0,926.5 L1382.0,933.6 M1383.5,926.5 L1383.5,933.6 M1385.0,926.5 L1385.0,933.6 M1386.5,926.5 L1386.5,933.6 M1388.0,926.5 L1388.0,933.6 M1389.5,926.5 L1389.5,933.6" stroke-width="0.8" fill="none"/>
<rect x="1352.2" y="928.4" width="2.2" height="3.3" stroke-width="0.8"/><rect x="1393.6" y="928.4" width="2.2" height="3.3" stroke-width="0.8"/>
<path d="M1366.5,933.9 L1366.5,940.2 L1363.4,941 L1363.4,944.7 L1383.8,944.7 L1383.8,941 L1380.7,940.2 L1380.7,933.9 L1377.3,933.9 L1377.3,943 L1369.9,943 L1369.9,933.9Z" fill="#111" stroke-width="0.8"/>
<rect x="1370.4" y="924" width="6.4" height="19.5" fill="#fff" stroke="none"/>
<path d="M1369.9,926 L1369.9,943.6 M1377.3,926 L1377.3,943.6" stroke-width="1.1"/>
<circle cx="1373.6" cy="930.3" r="26.8" fill="none" stroke-width="1.2" stroke-dasharray="17 3.5 1.6 3.5 1.6 3.5" stroke-dashoffset="4"/>
</g>
<circle cx="1044" cy="294" r="19.6" fill="none" stroke="#111" stroke-width="1.1" stroke-dasharray="15 3 1.5 3 1.5 3" stroke-dashoffset="10"/>
<g id="leaders">
<path d="M961.3,102.0 L974.0,102.0 L1049.3,287.9" fill="none" stroke="#111" stroke-width="1.3" />
<path d="M1049.3,287.9 L1041.4,276.0 L1046.6,273.9Z" fill="#111"/>
<path d="M932.8,149.3 L945.0,149.3 L1028.3,302.0" fill="none" stroke="#111" stroke-width="1.3" />
<path d="M1028.3,302.0 L1019.1,291.1 L1024.1,288.4Z" fill="#111"/>
<path d="M912.0,195.0 L924.0,195.0 L989.7,325.8" fill="none" stroke="#111" stroke-width="1.3" />
<path d="M989.7,325.8 L980.9,314.5 L985.9,312.0Z" fill="#111"/>
<path d="M902.0,237.0 L914.5,237.0 L963.2,323.9" fill="none" stroke="#111" stroke-width="1.3" />
<path d="M963.2,323.9 L953.9,313.1 L958.8,310.3Z" fill="#111"/>
<path d="M884.5,283.3 L895.8,283.3 L946.8,334.6" fill="none" stroke="#111" stroke-width="1.3" />
<path d="M946.8,334.6 L934.9,326.6 L938.9,322.7Z" fill="#111"/>
<path d="M724.0,334.8 L736.0,334.8 L820.5,420.9" fill="none" stroke="#111" stroke-width="1.3" />
<path d="M820.5,420.9 L808.7,412.9 L812.7,408.9Z" fill="#111"/>
<path d="M743.0,395.3 L756.0,395.3 L801.1,441.4" fill="none" stroke="#111" stroke-width="1.3" />
<path d="M801.1,441.4 L789.3,433.4 L793.3,429.4Z" fill="#111"/>
<path d="M706.8,441.3 L722.3,441.3 L763.5,459.0" fill="none" stroke="#111" stroke-width="1.3" />
<path d="M763.5,459.0 L749.5,456.0 L751.7,450.9Z" fill="#111"/>
<path d="M464.0,535.5 L477.3,535.5 L376.5,745.5" fill="none" stroke="#111" stroke-width="1.3" />
<path d="M376.5,745.5 L380.0,731.7 L385.1,734.1Z" fill="#111"/>
<path d="M1055.4,363.6 L1032.0,363.6 L950.6,384.5" fill="none" stroke="#111" stroke-width="1.3" />
<path d="M950.6,384.5 L963.5,378.3 L964.9,383.7Z" fill="#111"/>
<path d="M976.1,424.3 L920.5,400.5" fill="none" stroke="#111" stroke-width="1.3" />
<path d="M920.5,400.5 L934.5,403.4 L932.3,408.6Z" fill="#111"/>
<path d="M979.5,470.5 L968.2,470.5 L898.9,410.7" fill="none" stroke="#111" stroke-width="1.3" />
<path d="M898.9,410.7 L911.3,417.7 L907.7,422.0Z" fill="#111"/>
<path d="M961.4,516.4 L950.0,516.4 L879.5,428.9" fill="none" stroke="#111" stroke-width="1.3" />
<path d="M879.5,428.9 L890.5,438.0 L886.1,441.6Z" fill="#111"/>
<path d="M812.5,575.5 L743.2,527.7" fill="none" stroke="#111" stroke-width="1.3" />
<path d="M743.2,527.7 L756.3,533.3 L753.1,538.0Z" fill="#111"/>
<path d="M818.2,626.6 L808.0,626.6 L708.0,573.2" fill="none" stroke="#111" stroke-width="1.3" />
<path d="M708.0,573.2 L721.7,577.3 L719.0,582.3Z" fill="#111"/>
<path d="M610.7,671.4 L561.8,636.7" fill="none" stroke="#111" stroke-width="1.3" />
<path d="M561.8,636.7 L574.8,642.5 L571.6,647.1Z" fill="#111"/>
<path d="M567.5,738.0 L485.5,682.8" fill="none" stroke="#111" stroke-width="1.3" />
<path d="M485.5,682.8 L498.7,688.3 L495.6,692.9Z" fill="#111"/>
<path d="M337.0,857.5 L285.5,837.5" fill="none" stroke="#111" stroke-width="1.3" />
<path d="M285.5,837.5 L299.6,840.0 L297.5,845.2Z" fill="#111"/>
<path d="M304.0,910.5 L211.5,879.5" fill="none" stroke="#111" stroke-width="1.3" />
<path d="M211.5,879.5 L225.7,881.3 L223.9,886.6Z" fill="#111"/>
<path d="M265.0,966.0 L199.5,917.0" fill="none" stroke="#111" stroke-width="1.3" />
<path d="M199.5,917.0 L212.4,923.1 L209.0,927.6Z" fill="#111"/>
<path d="M228.5,1024.0 L163.5,944.5" fill="none" stroke="#111" stroke-width="1.3" />
<path d="M163.5,944.5 L174.5,953.6 L170.2,957.1Z" fill="#111"/>
<path d="M1117.0,231.8 L1099.0,231.8 L1058.6,278.4" fill="none" stroke="#111" stroke-width="1.3" />
<path d="M1058.6,278.4 L1065.7,266.0 L1069.9,269.7Z" fill="#111"/>
<path d="M1419.0,968.8 L1401.8,968.8 L1389.5,951.6" fill="none" stroke="#111" stroke-width="1.2" />
<path d="M1389.5,951.6 L1399.9,961.4 L1395.4,964.6Z" fill="#111"/>
<path d="M1142.3,327.5 L1032.7,308.3" fill="none" stroke="#111" stroke-width="1.3" />
<path d="M1032.7,308.3 L1047.0,308.0 L1046.0,313.5Z" fill="#111"/>
<path d="M1142.3,328.5 L1017.5,322.0" fill="none" stroke="#111" stroke-width="1.3" />
<path d="M1017.5,322.0 L1031.6,319.9 L1031.3,325.5Z" fill="#111"/>
<path d="M140.0,339.8 L157.2,307.5" fill="none" stroke="#111" stroke-width="1.3" />
<path d="M157.2,307.5 L153.1,321.2 L148.1,318.5Z" fill="#111"/>
<path d="M161.6,789.0 L209.8,849.6" fill="none" stroke="#111" stroke-width="1.3" />
<path d="M209.8,849.6 L198.9,840.4 L203.3,836.9Z" fill="#111"/>
<path d="M852.5,725.8 L898.5,796.4" fill="none" stroke="#111" stroke-width="1.3" />
<path d="M898.5,796.4 L888.5,786.2 L893.2,783.1Z" fill="#111"/>
<path d="M1123.9,960.7 L1084.6,936.8" fill="none" stroke="#111" stroke-width="1.3" />
<path d="M1084.6,936.8 L1098.0,941.7 L1095.1,946.5Z" fill="#111"/>
<circle cx="148.6" cy="771.8" r="20.7" fill="#fff" stroke="#111" stroke-width="1.3"/>
<path d="M146.3,757.5 L150.9,757.5 L150.5,778.2 L146.7,778.2Z" fill="#fff" stroke="#111" stroke-width="1.1"/>
<circle cx="148.6" cy="783.1" r="2.7" fill="#fff" stroke="#111" stroke-width="1.1"/>
<circle cx="841" cy="707.8" r="20.7" fill="#fff" stroke="#111" stroke-width="1.3"/>
<path d="M838.7,693.5 L843.3,693.5 L842.9,714.2 L839.1,714.2Z" fill="#fff" stroke="#111" stroke-width="1.1"/>
<circle cx="841" cy="719.1" r="2.7" fill="#fff" stroke="#111" stroke-width="1.1"/>
<circle cx="1079" cy="710" r="20.7" fill="#fff" stroke="#111" stroke-width="1.3"/>
<path d="M1076.7,695.7 L1081.3,695.7 L1080.9,716.4 L1077.1,716.4Z" fill="#fff" stroke="#111" stroke-width="1.1"/>
<circle cx="1079" cy="721.3" r="2.7" fill="#fff" stroke="#111" stroke-width="1.1"/>
<circle cx="1140.8" cy="975.1" r="20.7" fill="#fff" stroke="#111" stroke-width="1.3"/>
<path d="M1138.5,960.8 L1143.1,960.8 L1142.7,981.5 L1138.9,981.5Z" fill="#fff" stroke="#111" stroke-width="1.1"/>
<circle cx="1140.8" cy="986.4" r="2.7" fill="#fff" stroke="#111" stroke-width="1.1"/>
</g>
</g>
</svg>
</body></html>
